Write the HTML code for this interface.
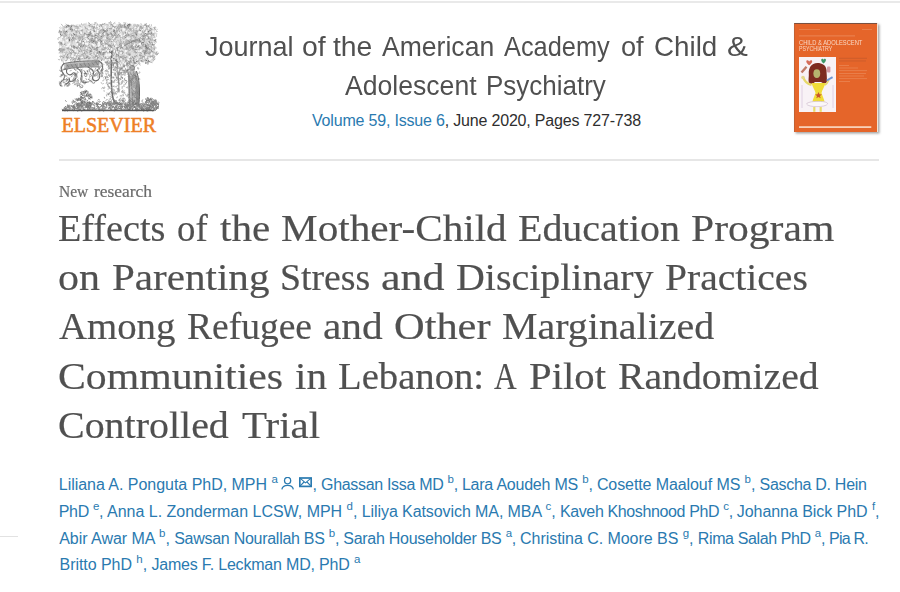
<!DOCTYPE html>
<html><head><meta charset="utf-8">
<style>
html,body{margin:0;padding:0;background:#fff;width:900px;height:592px;overflow:hidden;position:relative}
.abs{position:absolute;white-space:nowrap}
.topline{position:absolute;left:0;top:1px;width:900px;height:2px;background:#e9e9e9}
.sep{position:absolute;left:59px;top:159px;width:820px;height:2px;background:#e6e6e6}
.leftline{position:absolute;left:0;top:536px;width:18px;height:1px;background:#e2e2e2}
.jt{font-family:"Liberation Sans",sans-serif;font-size:27.5px;color:#505050;line-height:1}
.jw{position:absolute;white-space:pre;transform-origin:0 0}
.vol{font-family:"Liberation Sans",sans-serif;font-size:16px;color:#2e2e2e;line-height:1}
.blue{color:#2a7ab0}
.nr{font-family:"Liberation Serif",serif;font-size:16px;color:#6b6b6b;line-height:1}
.nw{position:absolute;white-space:pre;transform-origin:0 0;-webkit-text-stroke:0.2px #6b6b6b}
.tt{font-family:"Liberation Serif",serif;font-size:38px;color:#505050;line-height:1}
.tw{position:absolute;white-space:pre;transform-origin:0 0;-webkit-text-stroke:0.2px #505050}
.au{font-family:"Liberation Sans",sans-serif;font-size:16px;color:#2a7ab0;line-height:1}
.sp{font-size:11.5px;position:relative;top:-7px}
.w{position:absolute;white-space:pre}
</style></head><body>
<div class="topline"></div>
<div class="sep"></div>
<div class="leftline"></div>

<!-- Elsevier logo -->
<svg class="abs" id="logo" style="left:55px;top:18px" width="110" height="120" viewBox="0 0 110 120"><path d="M5.0,10.0 L10.0,7.5 L18.0,7.0 L26.0,6.5 L34.0,6.0 L42.0,6.5 L50.0,6.0 L58.0,6.2 L66.0,6.0 L74.0,6.5 L82.0,6.2 L90.0,7.0 L96.0,8.0 L100.0,10.5 L100.5,18.0 L99.5,26.0 L100.5,34.0 L99.5,41.0 L98.0,44.5 L92.0,45.0 L85.0,44.0 L80.0,45.5 L76.0,49.0 L72.0,53.0 L68.0,57.0 L64.0,55.0 L60.0,51.0 L56.0,46.0 L50.0,43.0 L42.0,42.0 L32.0,42.5 L22.0,42.0 L12.0,42.5 L6.0,43.0 L5.5,36.0 L4.5,28.0 L5.5,20.0 L4.5,14.0Z" fill="#dedede"/><path d="M9 45.5 C18 43.5 30 42.5 44 43 L44.5 49 C30 48.5 18 49.5 9.5 51.5 Z" fill="#bdbdbd"/><path d="M73.8 54 C74.5 52.3 79 52 81.5 53.5 C83.5 58 84.5 66 84.5 74 C84.5 80 84.2 84 83.8 87 L74.5 87 C74.5 80 74 72 73.8 64 C73.6 60 73.3 56 73.8 54 Z" fill="#c2c2c2"/><path d="M79.5 54 C82 58 84 64 84.3 72 C84.3 80 84 84 83.8 87 L80.5 87 C81 78 81 66 79.5 54Z" fill="#8e8e8e"/><circle cx="77.2" cy="49.8" r="2.4" fill="#b0b0b0" stroke="#6a6a6a" stroke-width="0.8"/><path d="M48.7 36.6A1.4 1.4 0 0 1 47.4 34.2M52.0 40.8A1.0 1.0 0 0 1 54.0 41.4M94.4 31.4A1.2 1.2 0 0 1 93.2 29.5M13.1 7.4l-1.3 -0.5M96.0 15.6A1.2 1.2 0 0 1 96.6 13.9M52.1 17.9A0.9 0.9 0 0 1 53.5 17.0M73.9 17.5A1.3 1.3 0 0 1 71.7 16.6M64.3 54.9A1.2 1.2 0 0 1 66.7 54.7M58.6 46.4A0.9 0.9 0 0 1 58.2 47.9M70.9 27.4A1.3 1.3 0 0 1 71.7 29.5M96.1 29.7l-1.0 0.2M12.5 7.5l1.1 0.8M82.4 43.0A0.9 0.9 0 0 1 83.9 43.0M52.2 20.9A1.0 1.0 0 0 1 52.2 19.0M66.3 26.9l-0.5 1.2M27.4 33.3l1.1 -0.3M74.5 7.1A0.9 0.9 0 0 1 72.9 7.2M14.6 28.4A0.9 0.9 0 0 1 16.3 28.4M59.8 49.7l0.2 -1.0M32.2 21.7A1.3 1.3 0 0 1 33.7 20.5M26.8 13.7A1.0 1.0 0 0 1 27.7 12.1M27.5 34.4A1.4 1.4 0 0 1 26.5 37.0M94.4 12.1A1.3 1.3 0 0 1 92.1 13.3M80.3 23.9A0.8 0.8 0 0 1 79.3 23.2M71.2 30.2A1.3 1.3 0 0 1 73.3 30.5M55.8 10.6l-1.2 -0.1M92.5 30.5A0.8 0.8 0 0 1 91.3 29.5M36.9 33.5A1.0 1.0 0 0 1 35.1 33.2M95.4 34.5A1.4 1.4 0 0 1 92.7 35.1M15.4 34.1l0.0 1.2M34.8 8.3A1.0 1.0 0 0 1 35.5 6.5M92.9 21.2l0.3 -1.7M61.5 34.8A0.8 0.8 0 0 1 61.6 33.3M72.1 50.5l-1.1 0.7M41.4 8.7l0.2 -1.5M23.6 26.2A0.8 0.8 0 0 1 24.7 27.1M10.8 14.2l0.5 -1.9M29.5 17.7l0.6 -1.7M60.5 17.8A1.1 1.1 0 0 1 60.9 15.6M55.0 4.1A0.7 0.7 0 0 1 56.2 4.3M77.5 29.4A1.0 1.0 0 0 1 76.7 27.7M89.4 7.6A1.3 1.3 0 0 1 92.0 8.3M87.9 38.6l1.1 -0.1M51.7 15.5A1.1 1.1 0 0 1 49.8 15.7M56.7 40.8l-1.6 0.1M28.2 23.8A1.0 1.0 0 0 1 29.8 24.5M74.2 43.4l1.5 -0.4M95.2 15.8l1.2 1.5M18.5 19.3l-1.2 0.5M72.0 25.7l-0.1 -1.1M94.0 29.5l0.6 1.5M68.9 10.5A1.5 1.5 0 0 1 70.3 13.1M98.3 17.0A1.0 1.0 0 0 1 98.3 15.2M6.2 27.9A0.8 0.8 0 0 1 5.0 28.3M89.5 36.6A1.1 1.1 0 0 1 90.1 34.8M18.3 28.2l0.6 1.5M30.9 33.3l1.4 1.0M14.5 27.4A1.1 1.1 0 0 1 16.0 29.1M54.7 27.2A0.9 0.9 0 0 1 53.6 27.8M29.8 15.6l-1.0 0.4M64.6 8.0A1.1 1.1 0 0 1 66.2 9.5M59.3 25.9l-0.9 0.4M78.5 27.1A1.4 1.4 0 0 1 78.3 29.5M53.2 31.5A0.8 0.8 0 0 1 51.8 31.7M37.1 28.6l0.6 1.4M71.4 42.7l-1.1 -0.0M77.5 17.6l-1.4 0.5M70.9 39.2A1.0 1.0 0 0 1 69.4 39.9M98.1 10.3A1.4 1.4 0 0 1 100.3 11.8M76.3 41.0A1.0 1.0 0 0 1 75.7 39.2M51.2 44.5l-1.1 -0.4M52.0 26.8A0.8 0.8 0 0 1 50.7 26.1M63.0 53.9A1.2 1.2 0 0 1 63.6 51.9M13.7 7.2A1.3 1.3 0 0 1 11.4 8.6M34.9 32.9l1.3 -0.2M78.8 40.2l-0.4 1.0M98.9 21.3l0.7 1.3M50.6 41.0l0.1 -1.8M22.6 26.4A1.3 1.3 0 0 1 22.3 24.1M88.6 27.3l-0.1 -1.3M73.8 8.9A1.0 1.0 0 0 1 72.2 7.8M96.5 10.9l-1.4 -0.5M42.3 32.7l-1.4 -0.8M92.2 44.8A0.9 0.9 0 0 1 93.6 43.9M59.3 6.6A1.3 1.3 0 0 1 56.8 7.6M35.6 30.2A1.4 1.4 0 0 1 35.1 32.9M16.3 21.4l1.2 1.3M20.1 29.4l-1.0 -1.6M80.7 31.3l1.5 0.5M33.6 14.6l1.5 0.3M62.0 28.7A0.7 0.7 0 0 1 61.3 30.0M37.2 8.6A1.5 1.5 0 0 1 36.6 6.0M88.8 15.9A1.1 1.1 0 0 1 88.1 18.0M58.4 7.7A1.1 1.1 0 0 1 56.8 6.5M92.9 30.1A1.4 1.4 0 0 1 93.3 27.8M80.9 38.1A0.7 0.7 0 0 1 82.1 38.0M92.5 31.4A1.4 1.4 0 0 1 90.6 29.4M3.8 24.8l2.0 0.1M69.3 6.5l0.2 1.7M42.7 39.2A1.0 1.0 0 0 1 41.5 40.8M51.5 33.8l-1.4 0.6M85.4 8.6A1.4 1.4 0 0 1 87.0 10.6M86.6 18.0A1.3 1.3 0 0 1 88.9 18.5M21.3 40.0A1.1 1.1 0 0 1 19.3 40.6M24.1 29.6l0.5 0.8M73.1 15.6l0.6 1.1M72.8 35.9A0.9 0.9 0 0 1 74.0 36.5M67.9 29.2A1.2 1.2 0 0 1 66.4 27.5M97.3 26.4l1.4 0.5M63.9 54.3A1.3 1.3 0 0 1 62.3 56.0M64.9 26.2l1.2 -0.6M34.7 34.3A1.2 1.2 0 0 1 36.7 33.5M32.1 38.4l-0.7 1.8M87.5 41.0A0.8 0.8 0 0 1 87.1 39.6M92.2 34.7A1.4 1.4 0 0 1 92.3 32.2M74.7 45.5A1.3 1.3 0 0 1 76.8 44.1M60.8 16.1A1.5 1.5 0 0 1 62.2 13.6M74.4 36.5A1.0 1.0 0 0 1 74.5 34.9M75.3 23.5A1.3 1.3 0 0 1 73.0 22.8M34.8 9.2l-1.0 0.7M13.0 27.9A1.4 1.4 0 0 1 10.9 27.6M77.8 48.6A1.5 1.5 0 0 1 78.7 46.7M84.1 23.1l0.2 1.8M99.1 31.5l0.9 -0.7M19.5 20.3l1.2 0.7M54.6 28.0A1.1 1.1 0 0 1 53.5 27.0M60.4 19.8l-1.4 -0.7M79.8 46.1l-0.0 -1.4M71.0 32.4A1.4 1.4 0 0 1 73.0 31.0M19.4 30.7A1.4 1.4 0 0 1 21.8 29.6M14.3 8.6l1.6 0.9M64.2 35.4A0.9 0.9 0 0 1 65.1 33.9M58.2 12.9l1.2 -0.7M56.9 21.1A1.3 1.3 0 0 1 56.4 23.5M40.7 21.7A0.7 0.7 0 0 1 40.6 20.6M33.4 27.3l-0.8 -1.3M48.2 20.8l-1.3 1.1M63.5 45.1A1.0 1.0 0 0 1 62.7 46.7M59.4 44.5l-1.1 -0.2M21.4 35.2A0.8 0.8 0 0 1 20.0 34.6M41.6 35.1A1.3 1.3 0 0 1 41.8 37.5M8.5 39.9l0.6 -1.1M69.2 9.5A1.0 1.0 0 0 1 70.7 8.8M28.2 27.8l1.2 -0.9M44.5 16.6l-2.0 0.1M78.3 13.2l-0.1 -1.3M72.6 42.5l1.1 1.4M21.4 14.9A1.0 1.0 0 0 1 21.3 13.1M71.0 10.5l-0.1 -1.3M59.4 17.4A1.0 1.0 0 0 1 57.5 17.0M19.6 17.7l-0.9 0.5M64.1 37.9l-0.8 -0.7M94.5 34.6A0.8 0.8 0 0 1 95.3 35.9M48.9 35.7l1.1 0.3M66.4 12.2A1.2 1.2 0 0 1 64.1 12.8M24.2 43.0A0.9 0.9 0 0 1 25.5 42.9M42.3 35.9A1.0 1.0 0 0 1 42.5 34.4M32.3 19.4l1.1 -0.9M91.6 35.4A1.2 1.2 0 0 1 90.3 33.6M52.5 19.9l-0.3 0.9M11.4 9.9l0.1 -1.6M33.4 4.9l1.3 0.6M63.3 36.6l0.2 1.7M48.7 16.6A1.3 1.3 0 0 1 48.7 14.1M43.7 15.6A0.8 0.8 0 0 1 45.2 15.4M59.8 5.2A1.5 1.5 0 0 1 60.0 7.3M43.2 22.5A1.3 1.3 0 0 1 45.7 22.8M3.9 14.7A1.0 1.0 0 0 1 5.9 14.4M33.4 16.9A1.2 1.2 0 0 1 32.6 19.1M35.6 13.5A1.2 1.2 0 0 1 33.6 14.6M9.3 32.3A0.8 0.8 0 0 1 8.3 31.4M7.8 31.6A1.1 1.1 0 0 1 6.1 32.9M80.0 28.9l1.4 -1.4M10.1 27.1l-1.3 -1.1M103.1 35.0A1.5 1.5 0 0 1 100.5 36.3M9.4 15.2A1.3 1.3 0 0 1 10.2 17.3M66.5 33.0A1.3 1.3 0 0 1 67.2 35.6M100.6 22.9l-0.0 -1.3M79.2 33.3A1.2 1.2 0 0 1 80.6 31.6M97.1 36.5A1.3 1.3 0 0 1 96.2 39.0M65.0 41.7l0.8 -0.5M18.6 27.8A1.4 1.4 0 0 1 19.1 30.0M78.1 45.0l1.9 -0.3M34.1 29.4A0.8 0.8 0 0 1 35.2 30.4M45.7 34.3A1.1 1.1 0 0 1 44.1 33.6M52.6 12.2A1.4 1.4 0 0 1 51.5 13.8M67.4 54.9A1.1 1.1 0 0 1 65.5 53.7M57.8 23.7A0.8 0.8 0 0 1 58.4 22.3M71.5 17.7A1.4 1.4 0 0 1 70.8 14.9M65.1 41.4A1.4 1.4 0 0 1 66.0 38.7M93.1 19.8A0.9 0.9 0 0 1 92.6 18.1M16.1 32.1l-0.8 -0.4M78.3 28.8l-0.3 -1.1M39.2 23.4l1.0 1.0M49.4 13.7A1.4 1.4 0 0 1 49.0 11.3M36.8 24.1A0.8 0.8 0 0 1 36.7 22.6M75.6 50.2l-0.5 -1.8M80.8 23.4l-2.0 -0.2M42.7 41.0A0.8 0.8 0 0 1 43.1 39.4M52.6 43.2A1.2 1.2 0 0 1 50.4 44.3M86.7 32.6l-1.1 0.8M28.9 23.3A1.1 1.1 0 0 1 26.8 22.6M31.5 39.3l1.6 -0.7M48.0 24.6A1.1 1.1 0 0 1 46.2 25.8M42.4 38.9A0.9 0.9 0 0 1 41.1 39.5M60.9 36.5A1.3 1.3 0 0 1 62.7 36.5M67.3 19.0A1.3 1.3 0 0 1 65.5 17.5M27.6 19.5A0.9 0.9 0 0 1 26.8 18.4M80.0 14.8l-1.1 0.1M69.0 38.5A1.2 1.2 0 0 1 68.3 40.5M46.4 42.8A1.2 1.2 0 0 1 47.3 41.1M49.4 31.0A1.2 1.2 0 0 1 46.9 31.1M78.5 30.4A1.3 1.3 0 0 1 76.4 28.9M78.2 27.9l-1.7 -0.6M4.1 32.3A1.0 1.0 0 0 1 4.9 34.2M84.3 29.9l0.9 -0.8M70.2 6.9A1.1 1.1 0 0 1 70.8 5.0M82.0 23.3A0.7 0.7 0 0 1 83.1 23.2M10.6 12.7A0.9 0.9 0 0 1 10.7 14.4M73.0 7.4A1.0 1.0 0 0 1 74.8 7.8M90.3 44.3l0.2 1.3M78.7 30.5A0.9 0.9 0 0 1 79.4 31.7M90.2 32.0A0.8 0.8 0 0 1 90.5 33.5M86.4 15.4l1.5 0.5M81.1 13.2A1.2 1.2 0 0 1 82.7 13.4M91.2 19.1l0.3 1.7M90.9 17.1l1.1 -1.5M23.6 32.0l0.9 1.5M20.7 23.6A1.1 1.1 0 0 1 22.2 22.2M8.6 13.0A0.8 0.8 0 0 1 9.8 13.9M71.8 19.1A1.3 1.3 0 0 1 69.6 17.7M52.0 26.8A0.7 0.7 0 0 1 51.8 28.0M75.7 10.9A1.4 1.4 0 0 1 74.1 8.5M12.6 39.2A1.2 1.2 0 0 1 12.8 41.0M49.9 5.5l-1.4 0.7M55.3 7.5A1.0 1.0 0 0 1 56.9 6.3M43.4 36.7A0.8 0.8 0 0 1 43.0 35.6M36.7 33.5A1.4 1.4 0 0 1 35.7 35.9M52.7 34.0l-0.0 -1.6M77.6 39.8l-0.3 -1.2M47.6 6.0A1.2 1.2 0 0 1 45.4 6.9M48.0 15.9A0.9 0.9 0 0 1 49.3 14.8M12.3 8.0A1.2 1.2 0 0 1 14.3 7.5M101.8 33.7l-1.0 1.7M55.3 21.8l-1.5 0.0M53.2 16.1A0.9 0.9 0 0 1 52.3 17.3M27.2 21.7A0.9 0.9 0 0 1 28.3 20.7M86.9 25.1A0.7 0.7 0 0 1 86.2 24.1M87.9 21.9A1.2 1.2 0 0 1 89.9 20.5M90.3 41.3l0.3 1.2M32.0 24.4A1.2 1.2 0 0 1 31.6 26.6M37.1 20.2l-0.3 1.0M34.6 38.8A1.2 1.2 0 0 1 33.3 40.8M47.2 23.9l0.9 0.7M5.6 23.6A1.5 1.5 0 0 1 6.5 25.6M57.5 18.0l-1.4 -0.2M53.5 30.4A0.8 0.8 0 0 1 54.2 31.6M18.1 41.0A0.7 0.7 0 0 1 17.7 42.3M19.2 42.5l0.6 1.5M87.8 43.0A1.1 1.1 0 0 1 86.0 42.5M42.1 30.5l-0.1 1.5M44.8 35.3l1.2 1.5M91.0 27.1A1.2 1.2 0 0 1 92.4 28.5M22.6 41.8l1.3 -1.5M46.8 21.3A1.4 1.4 0 0 1 44.9 20.6M79.0 57.2A1.4 1.4 0 0 1 78.7 60.0M73.1 52.0A1.2 1.2 0 0 1 75.4 53.0M49.0 85.9A1.4 1.4 0 0 1 51.5 86.8M59.2 60.0A0.7 0.7 0 0 1 58.3 58.8M78.4 59.9l-1.0 1.0M65.9 51.8A1.4 1.4 0 0 1 63.9 51.1M54.0 69.1l-1.0 -0.9M72.5 46.1l-1.2 1.5M65.5 61.6A1.4 1.4 0 0 1 67.8 60.0M56.0 64.6A1.4 1.4 0 0 1 54.1 65.3M74.4 46.0A0.8 0.8 0 0 1 74.4 44.4M66.4 84.5l0.9 0.9M73.5 55.7A1.5 1.5 0 0 1 73.1 58.5M78.0 61.0A0.8 0.8 0 0 1 76.7 60.6M49.6 80.2l-0.3 -0.9M81.8 60.3A0.9 0.9 0 0 1 80.9 61.4M78.4 76.1A1.1 1.1 0 0 1 77.2 77.3M78.3 82.7A1.0 1.0 0 0 1 79.4 84.3M69.4 89.1l0.9 -0.3M55.0 74.1A0.8 0.8 0 0 1 56.6 74.6M58.4 51.9l0.6 -0.7M80.6 70.1l-0.2 0.9M67.8 74.3A1.3 1.3 0 0 1 67.8 72.0M54.5 75.0A1.4 1.4 0 0 1 53.2 76.7M58.7 83.8l1.0 1.4M53.1 46.2A1.1 1.1 0 0 1 51.8 47.3M63.2 64.1A1.0 1.0 0 0 1 64.3 65.2M70.2 88.0A1.1 1.1 0 0 1 71.7 86.7M55.6 57.0l0.6 0.9M63.2 44.7l1.4 0.8M81.4 45.6l-1.6 -0.9M73.3 76.6A0.9 0.9 0 0 1 74.6 77.3M72.8 49.9l0.0 1.9M81.6 67.6A0.9 0.9 0 0 1 80.8 69.2M59.2 48.3l0.3 1.9M78.8 89.1A1.3 1.3 0 0 1 77.7 90.8M51.9 64.3l-0.6 1.0M64.0 89.9A0.9 0.9 0 0 1 63.9 88.3M57.6 45.2A1.2 1.2 0 0 1 58.5 46.9M75.3 46.6l0.6 0.8M60.6 55.3l-0.2 1.6M71.4 89.7l0.1 -1.6M52.8 67.2l-0.3 -0.9M65.8 55.8l-1.8 0.4M70.1 89.3l-1.2 -0.4M58.0 44.7A0.9 0.9 0 0 1 58.8 46.2M61.1 59.4A0.8 0.8 0 0 1 62.4 59.8M62.8 50.2A1.4 1.4 0 0 1 61.9 47.5M61.0 56.7A0.7 0.7 0 0 1 60.4 57.9M76.3 80.5l-1.1 -0.6M76.2 67.2A1.3 1.3 0 0 1 76.7 64.9M78.3 86.7l1.2 1.1M46.7 48.1l-1.0 1.1M67.8 76.1A1.3 1.3 0 0 1 68.3 77.9M56.7 59.7A1.2 1.2 0 0 1 58.5 59.4M60.6 52.8l-0.7 -1.1M62.7 73.3l0.4 -1.6M81.9 58.8l-1.5 -0.6M76.2 63.4l-0.9 -0.7M67.1 81.4A1.1 1.1 0 0 1 68.7 81.1M59.9 57.1A1.0 1.0 0 0 1 60.5 55.1M59.0 45.6A1.2 1.2 0 0 1 61.0 45.0M50.8 58.5l-0.3 1.8M71.8 54.3A1.0 1.0 0 0 1 72.4 56.3M66.1 58.6A1.4 1.4 0 0 1 67.1 61.1M67.3 64.1l-0.7 1.8M70.1 49.1A1.1 1.1 0 0 1 68.7 47.4M71.0 62.7A1.5 1.5 0 0 1 69.8 60.1M76.0 49.5A1.4 1.4 0 0 1 73.2 49.7M59.0 63.2A0.8 0.8 0 0 1 59.8 62.1M54.1 82.9l1.3 1.0M74.0 84.4l1.2 -0.3M62.0 47.8l0.6 1.0M57.8 68.1A0.8 0.8 0 0 1 59.0 68.7M75.2 62.4l1.4 -1.0M79.5 78.2l0.0 1.3M63.4 61.5l1.1 -1.3M53.5 47.7l1.2 0.5M50.6 60.5A1.5 1.5 0 0 1 53.3 59.3M59.4 75.5A0.7 0.7 0 0 1 58.4 74.4M76.9 83.8A1.4 1.4 0 0 1 77.3 86.6M79.7 64.0A0.7 0.7 0 0 1 81.0 64.5M77.2 76.1l1.3 1.2M79.5 57.9A1.4 1.4 0 0 1 79.5 55.6M80.2 74.5A1.0 1.0 0 0 1 78.8 75.9M78.4 55.7A1.0 1.0 0 0 1 77.4 57.4M77.4 76.2l1.5 1.0M78.7 77.6A1.3 1.3 0 0 1 78.2 79.9M76.4 85.7A1.1 1.1 0 0 1 74.8 84.3M82.6 85.4l0.4 1.8M82.1 81.8A1.4 1.4 0 0 1 82.9 79.8M81.7 58.9l-1.2 -1.4M78.3 55.1A0.8 0.8 0 0 1 78.7 53.9M76.1 56.4l-0.5 -1.6M78.8 83.7l1.5 1.2M77.7 75.7A1.2 1.2 0 0 1 77.6 73.9M77.3 61.2l0.7 -1.4M75.3 67.8l-0.5 0.8M81.0 63.7l-1.1 0.7M79.1 82.4l-1.4 -0.4M77.6 62.6A0.9 0.9 0 0 1 77.7 64.4M75.9 63.5A0.8 0.8 0 0 1 74.8 64.3M84.1 76.2A1.5 1.5 0 0 1 83.4 73.3M81.7 78.9A1.3 1.3 0 0 1 79.3 77.8M81.0 85.3A0.9 0.9 0 0 1 79.9 86.4M77.7 59.2l0.3 -1.6M75.1 64.3A1.1 1.1 0 0 1 75.8 62.3M80.8 73.8l-0.7 1.6M84.2 80.1A1.4 1.4 0 0 1 81.4 80.2M79.8 76.4l-1.8 -0.5M81.1 86.1l-0.6 -1.4" stroke="#7a7a7a" stroke-width="0.7" fill="none" stroke-linecap="round"/><path d="M50.6 38.4l-0.3 0.9M10.7 17.9A0.7 0.7 0 0 1 11.7 17.6M3.6 24.2A1.1 1.1 0 0 1 5.6 25.0M21.6 13.5A0.9 0.9 0 0 1 20.7 12.0M3.4 21.9A1.3 1.3 0 0 1 4.8 19.7M13.3 30.3A1.0 1.0 0 0 1 15.2 30.0M21.7 30.3A1.3 1.3 0 0 1 23.2 29.3M37.3 22.3l1.2 -1.3M96.9 10.7A1.5 1.5 0 0 1 94.5 12.1M7.7 33.0A1.5 1.5 0 0 1 6.2 35.3M57.6 50.0A1.4 1.4 0 0 1 59.9 49.6M92.0 15.2A1.1 1.1 0 0 1 93.8 14.8M91.8 11.5l1.1 0.7M58.6 43.6A1.2 1.2 0 0 1 56.9 44.6M45.4 23.2A0.7 0.7 0 0 1 46.0 24.5M73.6 47.5A1.3 1.3 0 0 1 71.4 47.7M66.9 38.9l1.2 -0.3M25.6 26.7A1.0 1.0 0 0 1 23.7 27.3M95.9 25.0A1.1 1.1 0 0 1 97.9 25.3M80.9 35.0A1.3 1.3 0 0 1 79.5 33.7M31.3 18.6A1.2 1.2 0 0 1 30.0 16.6M41.3 13.8A1.5 1.5 0 0 1 41.7 11.0M11.5 39.5l0.6 -1.2M83.5 21.5A1.1 1.1 0 0 1 84.4 23.6M63.3 16.0A1.0 1.0 0 0 1 61.6 17.1M80.2 9.2l0.2 1.0M82.9 6.5A1.4 1.4 0 0 1 81.6 8.6M28.5 28.6A1.3 1.3 0 0 1 26.7 26.6M58.6 8.9l-0.1 -1.3M16.1 39.3l-1.5 1.0M62.3 9.0l1.4 -0.1M47.7 34.0A1.3 1.3 0 0 1 47.3 36.5M78.8 24.3l-0.9 -0.3M6.2 14.1l-0.8 -1.5M72.0 20.0A0.9 0.9 0 0 1 72.0 18.1M26.5 32.6A1.2 1.2 0 0 1 25.5 31.0M83.1 7.0A1.1 1.1 0 0 1 83.8 8.7M32.7 11.4A0.8 0.8 0 0 1 31.8 10.4M90.0 36.2A1.0 1.0 0 0 1 89.8 38.0M71.9 52.6A1.0 1.0 0 0 1 70.3 53.1M82.1 11.9A1.4 1.4 0 0 1 79.9 12.8M7.6 26.0A0.9 0.9 0 0 1 8.7 25.2M74.2 41.0A1.4 1.4 0 0 1 76.6 40.5M39.8 21.5A1.0 1.0 0 0 1 40.8 19.7M75.3 44.1A1.4 1.4 0 0 1 73.4 42.4M68.6 23.4A1.3 1.3 0 0 1 66.7 25.1M65.3 50.5l-1.2 1.1M23.4 19.4A1.4 1.4 0 0 1 26.0 20.2M91.1 28.2l1.5 0.2M58.1 35.3l1.0 -0.8M58.1 34.4A1.2 1.2 0 0 1 60.1 34.7M9.3 30.1l-1.1 1.3M12.4 22.7l-0.1 -1.5M24.4 27.3A0.8 0.8 0 0 1 25.5 26.3M50.8 17.0A1.3 1.3 0 0 1 53.4 17.3M64.8 54.1A1.5 1.5 0 0 1 66.7 51.8M64.0 24.0l1.0 0.5M26.4 27.9A1.4 1.4 0 0 1 27.1 25.7M18.1 7.2A1.0 1.0 0 0 1 19.4 8.5M59.4 7.8l1.2 0.8M83.0 32.8A1.1 1.1 0 0 1 84.4 31.2M84.8 45.1l-1.0 -0.9M71.8 24.0l-1.1 -0.8M37.0 22.2A1.2 1.2 0 0 1 34.6 21.8M64.6 41.5A0.7 0.7 0 0 1 65.3 42.6M100.2 22.9A1.0 1.0 0 0 1 100.5 21.5M27.4 17.2A1.2 1.2 0 0 1 29.6 18.1M70.9 32.0l-0.5 -1.4M57.2 23.8A1.5 1.5 0 0 1 57.5 21.3M27.0 13.8A1.3 1.3 0 0 1 26.8 11.8M75.7 18.8l0.9 1.7M19.5 34.5A1.4 1.4 0 0 1 17.0 35.2M96.1 27.2l-0.0 1.4M80.4 22.0A1.2 1.2 0 0 1 82.6 22.6M8.3 32.2A1.3 1.3 0 0 1 10.0 31.3M79.3 17.7l-1.0 -0.4M81.2 22.9l-0.4 1.5M96.1 23.1l-0.4 -1.9M23.5 11.2A1.3 1.3 0 0 1 21.8 12.8M71.8 38.3A1.1 1.1 0 0 1 70.0 39.7M52.1 23.6A1.3 1.3 0 0 1 53.4 21.9M70.3 10.0A1.3 1.3 0 0 1 69.7 12.4M5.3 13.0l-0.8 -0.7M87.8 33.9A0.9 0.9 0 0 1 89.5 33.6M9.7 15.5A1.5 1.5 0 0 1 11.8 17.4M45.9 40.2A0.8 0.8 0 0 1 47.3 40.7M33.0 42.7l-0.2 1.3M26.4 23.4A1.2 1.2 0 0 1 25.3 25.6M44.6 13.7l0.8 -1.2M61.0 40.7l0.0 2.0M19.5 22.0A1.2 1.2 0 0 1 19.8 24.4M27.3 20.3A0.8 0.8 0 0 1 26.2 19.7M39.2 21.7A1.2 1.2 0 0 1 41.1 21.8M5.2 41.1A1.1 1.1 0 0 1 3.2 41.3M65.4 54.7A1.0 1.0 0 0 1 64.0 55.0M93.1 19.2A1.2 1.2 0 0 1 92.0 20.8M42.2 36.1A1.2 1.2 0 0 1 44.0 34.5M23.9 37.7A1.0 1.0 0 0 1 23.4 39.6M32.9 25.2A0.7 0.7 0 0 1 31.8 24.8M98.3 28.6A1.2 1.2 0 0 1 98.8 26.3M6.0 31.9A1.1 1.1 0 0 1 7.8 31.4M20.2 33.9A0.9 0.9 0 0 1 19.7 32.2M32.9 32.1A1.3 1.3 0 0 1 32.6 30.0M37.1 28.9l0.8 -1.8M71.7 47.9A1.1 1.1 0 0 1 73.7 47.6M85.9 16.8l1.2 -0.7M70.9 9.6A1.0 1.0 0 0 1 71.3 11.4M25.6 16.0A0.8 0.8 0 0 1 27.1 16.0M90.4 6.8l1.1 -1.4M8.1 24.7l-0.3 0.9M72.4 16.5l0.7 -0.9M84.3 30.1A1.4 1.4 0 0 1 84.9 32.2M71.0 44.4l1.2 0.7M54.2 30.3l1.8 0.3M10.1 15.7A1.1 1.1 0 0 1 9.1 13.8M41.4 36.8A1.0 1.0 0 0 1 40.3 35.1M63.7 36.1A1.1 1.1 0 0 1 62.4 34.9M100.0 38.3A1.4 1.4 0 0 1 97.4 38.9M38.8 13.3l-0.3 -1.1M31.8 12.9l0.2 1.3M64.0 43.6A1.4 1.4 0 0 1 66.1 44.6M78.3 32.0A0.8 0.8 0 0 1 77.5 31.1M53.5 42.5l1.1 -0.5M51.2 15.0l-0.1 -2.0M4.5 30.2A1.2 1.2 0 0 1 4.5 31.8M55.2 16.5l0.3 -1.4M71.8 35.7A0.8 0.8 0 0 1 71.8 34.2M71.1 48.5l-0.6 1.8M70.4 48.7A1.4 1.4 0 0 1 71.7 50.6M36.5 24.3l-0.6 -1.0M82.6 17.8A1.5 1.5 0 0 1 81.0 20.1M87.5 38.8l0.1 1.4M45.2 13.7A1.1 1.1 0 0 1 43.2 14.5M74.5 25.2A0.8 0.8 0 0 1 74.5 26.5M69.3 56.8l-0.7 -1.2M95.5 42.1A0.8 0.8 0 0 1 95.2 40.8M58.8 14.2A1.0 1.0 0 0 1 60.1 12.7M87.1 29.1l0.9 -0.2M33.4 7.3A0.7 0.7 0 0 1 34.6 7.5M75.5 31.3A1.3 1.3 0 0 1 76.7 28.9M80.8 23.7l0.6 1.2M10.4 36.3A1.2 1.2 0 0 1 8.9 37.5M81.7 36.5A1.2 1.2 0 0 1 80.0 38.1M23.0 30.2A1.2 1.2 0 0 1 21.2 30.8M87.3 12.7l0.5 1.9M39.7 15.9l-1.6 0.2M63.8 16.9A0.9 0.9 0 0 1 65.1 15.6M37.4 25.5l-0.1 1.1M47.0 16.3l0.9 0.9M63.7 4.8A1.5 1.5 0 0 1 65.7 6.2M16.7 21.4l1.4 -1.1M52.7 44.8A1.5 1.5 0 0 1 53.5 47.5M39.4 8.5A0.8 0.8 0 0 1 37.8 8.4M11.7 11.9A1.4 1.4 0 0 1 9.5 11.4M66.5 13.1A1.2 1.2 0 0 1 64.4 13.8M40.2 6.2l-1.5 0.7M67.3 41.1A1.0 1.0 0 0 1 69.1 41.2M93.5 31.0l1.1 -1.0M7.2 7.2l-0.8 -1.0M58.7 8.0A1.1 1.1 0 0 1 57.3 9.6M59.3 9.2A1.4 1.4 0 0 1 58.7 11.8M63.0 19.0A1.2 1.2 0 0 1 61.0 17.8M49.9 30.5l1.3 1.4M94.3 38.4A0.8 0.8 0 0 1 95.6 39.3M41.4 25.3l-1.3 -1.1M71.3 48.8l-0.6 0.8M34.2 16.3l0.6 -1.4M71.0 28.3l0.7 1.3M81.2 10.2l1.4 -0.5M36.2 15.9l1.1 0.1M72.3 24.1l-0.8 -0.9M46.8 37.1l0.2 -0.9M24.5 22.0l-1.1 -1.7M65.6 22.5l0.1 -1.1M39.6 9.6A1.0 1.0 0 0 1 37.9 10.2M63.0 31.4l1.4 -0.3M51.1 12.7A1.1 1.1 0 0 1 48.9 12.6M87.5 33.5l1.2 -0.7M84.3 45.7l0.8 1.5M40.1 23.2A1.4 1.4 0 0 1 41.6 21.8M34.8 7.5A1.3 1.3 0 0 1 36.7 7.2M44.4 17.4A1.0 1.0 0 0 1 45.7 16.4M69.7 17.7A0.7 0.7 0 0 1 68.4 18.3M5.7 39.1A1.3 1.3 0 0 1 7.8 38.5M59.6 23.2l-0.5 1.8M92.6 7.9A1.4 1.4 0 0 1 93.9 10.0M91.6 45.1l1.9 0.1M45.1 10.4A0.9 0.9 0 0 1 43.9 9.4M39.1 22.6l-1.7 -0.4M22.4 24.1A1.5 1.5 0 0 1 21.7 26.5M33.4 23.2A1.3 1.3 0 0 1 35.3 23.8M41.9 17.5A1.1 1.1 0 0 1 42.0 15.3M28.2 28.4l-0.9 1.1M28.9 32.8A0.9 0.9 0 0 1 30.1 31.8M69.8 49.4A0.8 0.8 0 0 1 69.6 47.8M16.8 35.0l-0.7 0.7M101.6 24.1A1.1 1.1 0 0 1 100.9 21.9M101.6 36.2l-0.5 -1.6M73.5 23.6l1.0 1.5M72.7 10.6A0.8 0.8 0 0 1 73.7 10.1M52.3 25.8l-1.5 -0.1M98.4 30.9A1.2 1.2 0 0 1 99.8 30.0M89.1 38.4l0.2 1.0M44.5 23.7A0.7 0.7 0 0 1 43.8 22.3M54.8 29.0A0.7 0.7 0 0 1 55.9 29.9M70.4 53.9A1.0 1.0 0 0 1 71.2 52.1M63.7 8.5A1.2 1.2 0 0 1 64.8 10.2M27.0 33.9l-0.7 -0.7M8.6 45.2A0.7 0.7 0 0 1 8.3 44.1M49.4 23.8A0.8 0.8 0 0 1 49.3 25.3M59.7 32.0A1.0 1.0 0 0 1 59.6 34.0M53.0 20.9l1.0 0.0M94.8 24.0A0.9 0.9 0 0 1 94.9 22.4M44.5 39.3A0.8 0.8 0 0 1 45.2 38.0M52.9 10.5A1.1 1.1 0 0 1 50.9 11.1M64.4 54.6A1.0 1.0 0 0 1 63.4 56.4M70.6 50.3l-0.9 1.5M88.2 43.8A1.0 1.0 0 0 1 89.9 44.4M80.5 28.7A1.2 1.2 0 0 1 81.6 26.5M96.2 36.4l0.3 1.5M68.7 47.7A0.7 0.7 0 0 1 68.9 46.7M71.3 46.1l-1.2 0.5M43.7 29.5l1.4 -1.2M47.3 32.1l-0.7 1.5M54.2 18.7l-1.0 0.9M96.7 26.6l-0.2 1.3M10.0 20.2l1.7 0.8M99.4 21.6l-0.5 -1.8M101.9 36.0l1.0 -0.3M63.3 44.5l0.3 1.0M62.4 47.4l-1.2 -1.5M10.2 25.2l-0.4 1.4M96.6 7.7A0.7 0.7 0 0 1 96.2 6.7M86.0 9.3l-0.9 0.1M59.9 4.5l-1.5 1.2M100.1 25.6A1.4 1.4 0 0 1 100.4 23.2M70.8 56.9A1.5 1.5 0 0 1 68.7 57.1M7.6 16.2l0.7 1.7M37.9 16.9A1.2 1.2 0 0 1 36.0 17.4M38.1 31.7A0.9 0.9 0 0 1 39.8 31.5M87.8 32.0A1.1 1.1 0 0 1 86.9 33.2M91.3 10.6A1.3 1.3 0 0 1 88.7 10.2M6.0 18.2A0.8 0.8 0 0 1 6.7 19.6M39.7 8.4A1.3 1.3 0 0 1 37.2 8.3M73.5 45.1A1.0 1.0 0 0 1 74.3 46.9M21.3 43.2A1.2 1.2 0 0 1 20.3 41.1M66.2 29.7A1.5 1.5 0 0 1 68.3 30.9M5.5 30.2A1.3 1.3 0 0 1 6.8 31.7M5.3 33.3A0.8 0.8 0 0 1 6.5 32.5M62.8 31.5A1.3 1.3 0 0 1 63.9 29.4M70.7 23.9l-1.0 1.7M67.4 49.8l-1.4 0.2M42.4 34.2l0.5 1.4M13.0 33.7A1.3 1.3 0 0 1 15.2 34.4M59.1 16.5A1.4 1.4 0 0 1 60.7 14.5M72.9 15.9l0.0 -1.9M16.9 6.7l0.0 1.2M85.5 30.3l1.5 0.2M68.8 15.2A1.0 1.0 0 0 1 67.5 14.1M10.9 13.7l1.9 0.6M70.2 41.2A1.1 1.1 0 0 1 71.8 41.7M35.9 22.0A1.0 1.0 0 0 1 34.3 21.6M53.9 24.3A0.9 0.9 0 0 1 54.4 22.9M93.0 11.9A1.3 1.3 0 0 1 93.0 9.7M28.9 9.4A0.8 0.8 0 0 1 30.5 9.3M24.0 7.0A1.1 1.1 0 0 1 22.2 7.8M16.1 35.7l1.7 -0.8M74.1 13.4l-0.3 -0.9M44.5 28.1l-0.3 -1.2M12.2 30.5l1.1 -1.2M75.0 37.9l-1.1 -0.5M39.3 5.2l1.8 -0.7M56.8 19.2A1.4 1.4 0 0 1 56.4 17.3M42.6 6.8l-0.1 -0.9M80.5 54.0A1.1 1.1 0 0 1 80.8 55.6M60.3 86.7A1.1 1.1 0 0 1 58.5 86.1M57.0 62.7A0.9 0.9 0 0 1 57.4 64.5M60.3 68.9A0.7 0.7 0 0 1 61.7 69.0M49.2 73.4l-0.2 -1.1M62.8 59.9A0.9 0.9 0 0 1 61.6 60.2M76.3 83.2A0.9 0.9 0 0 1 75.3 81.8M72.7 84.9l-0.5 1.1M50.2 44.2A0.8 0.8 0 0 1 51.6 44.0M58.0 54.4l-1.7 -0.2M81.8 47.3A1.4 1.4 0 0 1 79.5 48.0M53.6 68.5A1.4 1.4 0 0 1 52.9 71.2M61.5 62.4l1.2 -0.7M59.7 84.7A0.7 0.7 0 0 1 59.2 86.1M75.3 72.3A0.9 0.9 0 0 1 75.0 70.9M75.5 71.0A1.0 1.0 0 0 1 77.4 71.6M53.9 69.2A0.8 0.8 0 0 1 54.9 70.4M78.6 69.2A1.3 1.3 0 0 1 77.2 67.7M66.1 50.7A0.7 0.7 0 0 1 67.2 51.7M62.0 70.7l1.7 0.2M58.6 73.7A1.4 1.4 0 0 1 55.8 74.1M61.3 47.6A1.5 1.5 0 0 1 63.5 46.6M52.9 55.0l0.5 -1.6M68.9 52.9l1.0 -1.3M62.3 53.8l-1.3 0.2M81.0 66.4l0.0 -1.7M64.6 49.7l-1.0 0.4M45.8 56.3A1.3 1.3 0 0 1 46.9 58.3M52.0 46.1A1.5 1.5 0 0 1 54.9 46.1M76.8 83.6l-1.6 0.0M57.2 71.4A0.9 0.9 0 0 1 55.9 70.1M59.0 53.0A1.3 1.3 0 0 1 58.2 51.0M83.5 45.2l-0.7 0.8M60.0 61.5l1.0 0.7M69.3 80.3A1.2 1.2 0 0 1 67.1 80.0M68.9 55.3A0.9 0.9 0 0 1 67.7 54.8M70.6 66.0A0.9 0.9 0 0 1 71.4 64.7M58.0 71.9A0.7 0.7 0 0 1 59.3 71.3M64.9 50.6l-0.2 1.7M70.8 53.9A1.1 1.1 0 0 1 73.0 54.2M70.0 88.8l-0.8 -0.5M78.3 67.0l1.5 1.2M46.6 45.4l-0.5 -1.0M48.8 61.0A1.2 1.2 0 0 1 47.6 62.9M79.2 45.8l1.4 -1.0M74.9 43.7A0.9 0.9 0 0 1 76.2 43.9M77.4 87.7A1.1 1.1 0 0 1 79.0 87.7M63.0 48.6A1.3 1.3 0 0 1 65.1 49.0M59.6 77.1A0.8 0.8 0 0 1 58.7 76.1M72.1 78.4l0.9 0.9M74.6 58.5A0.9 0.9 0 0 1 76.1 58.9M80.8 63.3l-1.4 -1.4M79.0 52.4l0.4 -1.9M64.5 62.9A0.7 0.7 0 0 1 65.3 61.6M63.9 65.8l0.8 -0.6M63.7 70.3l-1.3 0.8M59.1 75.3A1.2 1.2 0 0 1 57.9 76.3M60.1 46.0l-1.0 1.6M73.1 46.3A1.2 1.2 0 0 1 71.5 45.2M81.1 57.0A1.4 1.4 0 0 1 80.5 54.6M59.5 82.2l-0.9 -1.3M76.8 84.2A1.4 1.4 0 0 1 79.3 83.6M59.2 72.1l0.8 1.5M73.7 77.6A1.2 1.2 0 0 1 75.2 76.8M56.2 66.6A1.2 1.2 0 0 1 55.1 65.2M74.6 75.1A1.0 1.0 0 0 1 74.7 73.4M67.6 62.5A0.8 0.8 0 0 1 66.7 63.5M73.2 70.0l-1.9 -0.5M63.7 72.7A1.2 1.2 0 0 1 61.4 73.4M76.6 81.5l0.3 -1.6M74.6 62.7A1.0 1.0 0 0 1 75.0 61.2M45.2 45.8A0.8 0.8 0 0 1 44.4 44.4M66.5 90.6A1.5 1.5 0 0 1 66.7 87.7M55.7 46.5A0.9 0.9 0 0 1 54.1 46.9M76.7 81.3A1.4 1.4 0 0 1 78.3 83.1M62.4 67.0A0.7 0.7 0 0 1 61.8 68.2M54.7 50.6A1.2 1.2 0 0 1 53.4 48.7M53.7 48.7l0.7 0.7M67.0 63.4A1.3 1.3 0 0 1 69.3 64.3M58.1 48.7l-0.8 1.0M61.4 49.5A1.0 1.0 0 0 1 60.0 48.8M65.4 51.1A1.4 1.4 0 0 1 65.1 53.1M75.8 74.0A0.8 0.8 0 0 1 74.8 75.0M67.5 47.8A1.3 1.3 0 0 1 65.7 45.8M68.7 73.9l1.5 0.9M53.6 86.3A1.2 1.2 0 0 1 53.3 88.2M79.5 51.9l-1.6 0.5M72.7 53.4A0.8 0.8 0 0 1 71.9 52.1" stroke="#a0a0a0" stroke-width="0.7" fill="none" stroke-linecap="round"/><path d="M83.0 43.1A1.0 1.0 0 0 1 84.8 42.2M15.2 20.3A1.4 1.4 0 0 1 13.4 21.6M37.7 22.3A1.3 1.3 0 0 1 35.5 22.0M16.1 40.0l0.9 -0.1M35.9 20.6l0.4 1.5M94.0 43.3l-0.9 -1.1M76.0 21.9l-1.6 -0.5M89.3 26.5A1.2 1.2 0 0 1 91.2 27.1M61.3 38.1l0.9 0.8M54.2 20.5A0.9 0.9 0 0 1 55.2 21.8M82.1 21.9l1.2 0.7M29.0 43.3l0.2 1.6M70.6 56.0A1.2 1.2 0 0 1 72.0 54.1M79.8 18.4A1.3 1.3 0 0 1 79.9 20.8M29.9 26.6A1.2 1.2 0 0 1 28.1 27.6M68.0 49.0A1.2 1.2 0 0 1 66.4 50.5M25.3 20.4A0.8 0.8 0 0 1 25.2 18.8M44.8 24.4A1.0 1.0 0 0 1 46.5 24.1M24.4 40.0A1.1 1.1 0 0 1 25.2 41.7M58.2 31.8A1.0 1.0 0 0 1 57.8 33.3M41.9 30.4A0.7 0.7 0 0 1 42.7 29.2M59.7 5.5l-1.3 0.2M84.5 37.0A0.7 0.7 0 0 1 85.4 37.8M41.2 37.1l-0.8 0.5M58.7 23.4A1.3 1.3 0 0 1 60.0 21.3M90.9 15.4l0.7 -1.1M96.8 28.9l0.7 -0.8M70.4 19.1A0.8 0.8 0 0 1 70.0 20.2M17.5 20.1A1.4 1.4 0 0 1 18.1 22.7M46.7 8.1A1.3 1.3 0 0 1 44.5 9.2M45.5 27.4A1.4 1.4 0 0 1 45.4 24.6M89.0 20.8A0.8 0.8 0 0 1 87.7 21.8M54.2 42.0l1.2 -1.4M26.4 13.1A1.3 1.3 0 0 1 25.9 15.6M6.6 13.6A0.9 0.9 0 0 1 4.9 13.9M71.0 13.9l-0.8 0.8M4.3 26.2A1.0 1.0 0 0 1 6.1 26.6M60.1 33.9A1.1 1.1 0 0 1 59.2 32.6M31.0 40.0l-1.6 0.6M20.2 36.5l1.4 1.3M80.4 14.3A1.0 1.0 0 0 1 80.5 16.1M48.7 32.4l-0.3 -1.1M80.1 9.0A0.9 0.9 0 0 1 80.8 10.0M85.1 40.6A0.8 0.8 0 0 1 86.1 39.7M28.2 28.2A1.2 1.2 0 0 1 26.6 27.6M57.3 46.7l-0.3 1.1M59.8 32.1l-0.5 1.6M42.5 17.0A0.7 0.7 0 0 1 43.4 15.9M55.0 33.5l-0.8 -0.6M78.8 23.3l-1.5 -1.0M93.7 9.1A1.3 1.3 0 0 1 94.6 6.9M56.2 11.1A1.3 1.3 0 0 1 58.7 10.9M13.2 35.7l-0.9 1.0M82.5 33.8A1.2 1.2 0 0 1 80.2 33.1M65.2 56.3A1.1 1.1 0 0 1 63.2 56.2M70.6 8.7A1.0 1.0 0 0 1 69.1 7.4M77.2 30.6l1.9 0.4M45.5 12.9l1.4 -1.4M75.5 41.9l0.4 0.9M79.3 26.4l1.3 0.4M31.0 28.8l1.5 0.5M32.1 17.9A1.2 1.2 0 0 1 34.2 16.9M70.5 27.2A0.8 0.8 0 0 1 69.8 26.0M21.7 18.3A0.7 0.7 0 0 1 22.9 17.6M42.1 30.2l0.1 1.7M59.1 34.5l0.2 -1.2M58.8 27.6A1.0 1.0 0 0 1 59.7 28.7M92.3 16.5l-1.3 1.0M98.5 33.8l0.8 1.1M78.6 22.3A1.4 1.4 0 0 1 75.9 22.5M79.1 44.5l1.1 0.5M88.0 38.5A0.9 0.9 0 0 1 86.8 37.5M40.2 43.6l-0.3 1.1M41.9 19.0l-1.1 1.2M13.1 36.8l-0.6 0.8M38.6 25.8A1.3 1.3 0 0 1 38.2 23.4M18.8 11.1A0.8 0.8 0 0 1 18.6 9.8M73.5 27.8l1.6 0.4M81.2 15.6A0.8 0.8 0 0 1 82.4 14.8M62.8 17.1A1.2 1.2 0 0 1 64.8 18.3M18.4 20.1l-0.4 0.9M31.8 24.9A1.5 1.5 0 0 1 34.7 24.6M60.4 11.1l-0.8 -1.2M67.2 38.2A1.3 1.3 0 0 1 64.8 39.0M46.3 6.9A0.8 0.8 0 0 1 45.1 6.7M55.8 35.9A0.9 0.9 0 0 1 57.1 36.9M96.7 15.7l-1.7 0.8M25.7 7.5l-0.2 1.2M62.5 45.1l-1.4 0.5M41.8 42.3A1.1 1.1 0 0 1 40.4 43.7M93.5 18.2A0.9 0.9 0 0 1 92.5 19.6M85.1 34.3A1.4 1.4 0 0 1 86.6 35.7M58.6 8.9A1.4 1.4 0 0 1 58.9 11.0M62.7 12.6A1.3 1.3 0 0 1 60.8 11.5M20.5 8.7l1.8 -0.1M42.4 18.1A1.3 1.3 0 0 1 43.8 19.4M54.0 24.0l1.1 -0.2M55.7 15.7A1.0 1.0 0 0 1 57.1 16.8M16.1 43.5A0.8 0.8 0 0 1 15.5 44.9M42.6 15.5l1.7 1.1M91.7 23.6A0.7 0.7 0 0 1 91.0 24.5M90.1 32.7A1.4 1.4 0 0 1 89.3 35.0M63.5 31.4A0.7 0.7 0 0 1 62.9 30.6M48.2 28.1A0.8 0.8 0 0 1 49.4 29.1M62.1 18.5l-1.0 1.5M90.1 12.6l-0.6 0.9M68.2 17.2A1.4 1.4 0 0 1 70.7 17.0M65.1 25.5l-0.7 1.6M22.4 24.0l1.7 0.6M4.0 13.4A1.0 1.0 0 0 1 5.9 12.9M40.4 31.9A1.0 1.0 0 0 1 39.2 30.8M88.5 11.0A0.9 0.9 0 0 1 88.3 9.3M43.2 9.0l-1.0 0.9M32.0 26.0l-0.4 -1.3M82.2 21.7A1.2 1.2 0 0 1 80.0 21.3M63.4 29.6A1.2 1.2 0 0 1 65.4 28.7M79.2 19.8A0.8 0.8 0 0 1 78.5 18.9M90.8 23.4l-1.9 0.4M80.5 29.4l1.1 0.4M13.1 39.5A1.1 1.1 0 0 1 11.6 38.1M64.6 26.4l1.5 1.2M5.1 30.4A1.0 1.0 0 0 1 3.7 31.7M22.3 30.6A1.0 1.0 0 0 1 22.2 28.8M69.2 49.6A0.7 0.7 0 0 1 69.9 48.4M61.9 45.3A0.7 0.7 0 0 1 61.2 43.9M59.5 35.7A1.5 1.5 0 0 1 61.5 37.8M86.4 42.4l0.5 1.2M36.7 28.0l-0.7 -0.6M60.0 27.0l0.6 -0.8M89.9 18.7A1.0 1.0 0 0 1 90.9 20.0M73.5 8.8A1.1 1.1 0 0 1 71.6 9.6M86.0 29.6l-1.1 0.2M96.7 28.2l-0.5 1.1M24.6 41.6A0.8 0.8 0 0 1 24.2 40.2M56.4 29.0A1.0 1.0 0 0 1 56.0 27.0M40.7 24.8A0.9 0.9 0 0 1 41.6 26.1M79.6 40.9l-1.2 -1.2M73.4 42.0A1.3 1.3 0 0 1 74.0 40.2M96.1 11.8A0.9 0.9 0 0 1 95.5 12.9M62.1 31.8A0.7 0.7 0 0 1 61.8 30.5M93.4 20.4A1.5 1.5 0 0 1 92.2 18.3M55.5 5.2A1.1 1.1 0 0 1 53.8 4.4M56.8 29.2A1.1 1.1 0 0 1 57.4 27.2M68.9 46.5A0.8 0.8 0 0 1 69.1 47.9M88.8 32.5A1.5 1.5 0 0 1 89.8 35.1M45.8 18.0A1.0 1.0 0 0 1 44.9 19.8M33.0 27.2A0.8 0.8 0 0 1 34.2 26.2M54.5 16.5A1.1 1.1 0 0 1 52.6 15.7M27.6 19.0l0.6 -1.1M75.4 36.0l-0.4 1.3M73.5 24.7A1.4 1.4 0 0 1 71.6 25.9M91.9 32.9A0.8 0.8 0 0 1 90.8 32.7M48.3 18.3A0.8 0.8 0 0 1 49.2 17.4M88.7 34.1l1.6 1.2M92.2 10.0l-0.8 -1.7M85.2 9.6A0.9 0.9 0 0 1 83.7 10.6M22.5 26.7l-0.5 -1.2M24.2 42.4A1.2 1.2 0 0 1 24.4 40.0M74.5 23.4A0.8 0.8 0 0 1 74.9 24.9M76.2 13.1A1.1 1.1 0 0 1 76.8 11.0M78.9 39.2A0.7 0.7 0 0 1 80.3 39.1M48.2 11.3l-0.4 1.1M42.6 22.0A1.2 1.2 0 0 1 44.1 22.8M20.2 42.8l-0.7 1.5M66.8 9.4A1.0 1.0 0 0 1 65.5 8.1M55.4 14.8A1.2 1.2 0 0 1 55.6 17.2M98.8 9.8A1.3 1.3 0 0 1 101.0 9.4M41.5 41.1A0.9 0.9 0 0 1 41.4 39.8M41.7 27.0A1.2 1.2 0 0 1 41.8 24.6M48.1 37.3l0.5 1.6M73.9 17.7l0.7 -0.9M17.0 36.1A0.9 0.9 0 0 1 16.2 37.3M66.7 30.5A0.8 0.8 0 0 1 68.1 30.8M47.1 19.7l-1.0 1.6M30.2 16.2l-0.9 -0.3M23.9 13.8A1.3 1.3 0 0 1 24.7 15.5M26.5 5.8l-0.2 1.2M14.0 23.6l0.5 -1.1M49.7 23.5l-1.4 -0.6M33.8 9.5A0.9 0.9 0 0 1 34.0 11.0M100.2 21.9A1.2 1.2 0 0 1 98.1 21.0M78.4 17.8l-1.2 0.1M35.5 14.6l-1.5 -0.8M59.8 7.5l-0.9 0.4M71.0 42.6A1.4 1.4 0 0 1 69.0 44.3M25.3 25.2l0.9 -1.1M35.8 11.4l-0.5 -1.9M67.0 39.5l0.9 1.1M63.1 30.9A0.9 0.9 0 0 1 62.2 30.0M16.4 13.1l1.6 -0.3M96.4 15.6A1.1 1.1 0 0 1 98.5 14.8M86.2 11.5A1.0 1.0 0 0 1 87.6 11.1M21.0 11.4A1.3 1.3 0 0 1 23.6 10.9M21.8 37.3l-0.1 1.0M78.3 22.6A0.9 0.9 0 0 1 79.5 24.0M66.7 27.0A0.8 0.8 0 0 1 66.8 28.4M61.9 49.6A1.2 1.2 0 0 1 60.6 47.8M16.6 35.7l1.3 -0.7M17.2 30.1A1.1 1.1 0 0 1 18.8 29.5M39.7 30.4l-0.9 -1.0M61.6 10.3A1.3 1.3 0 0 1 63.8 11.8M14.0 40.9l0.7 -0.8M73.6 6.7A1.4 1.4 0 0 1 76.1 6.6M32.1 37.6A1.4 1.4 0 0 1 32.7 39.4M6.5 25.4l0.5 1.3M12.1 30.7l1.5 0.3M93.7 20.7A0.9 0.9 0 0 1 95.2 21.6M94.4 26.3A1.3 1.3 0 0 1 92.1 25.4M82.2 36.7A0.8 0.8 0 0 1 81.2 35.5M37.7 20.6l-1.0 -0.5M27.9 40.5A1.2 1.2 0 0 1 26.3 39.6M13.1 20.0A1.4 1.4 0 0 1 15.0 19.0M62.1 35.7l1.2 -0.6M90.4 13.2l-0.2 -1.1M30.9 10.7l-0.6 -1.0M58.7 47.9l-0.3 -1.3M81.6 15.1A1.0 1.0 0 0 1 81.9 16.7M92.6 40.4A1.2 1.2 0 0 1 91.5 38.4M78.3 26.8A1.4 1.4 0 0 1 75.6 27.1M89.1 27.7l-1.9 -0.4M38.0 16.3A1.3 1.3 0 0 1 36.9 18.2M72.3 22.8l1.7 -0.1M70.4 16.0A1.3 1.3 0 0 1 70.7 13.8M86.0 20.0A1.4 1.4 0 0 1 86.9 22.6M38.1 19.2A1.4 1.4 0 0 1 40.2 18.8M74.6 29.9A0.7 0.7 0 0 1 75.4 29.0M89.1 21.5l0.3 1.1M43.8 14.4l-0.4 -1.4M44.5 27.6l1.1 0.3M55.5 27.6l-1.1 -1.6M38.8 11.3A1.4 1.4 0 0 1 39.2 9.1M66.5 8.3A0.7 0.7 0 0 1 67.7 7.7M84.5 37.0A0.8 0.8 0 0 1 85.9 37.5M35.7 36.4A0.8 0.8 0 0 1 34.4 36.2M20.6 18.2l0.7 -1.7M20.2 16.5l-1.2 0.5M90.7 7.5A1.0 1.0 0 0 1 89.9 6.0M97.0 37.0l-1.6 1.1M44.0 9.9l0.5 -1.8M12.5 21.3l1.3 1.3M63.7 7.5A1.0 1.0 0 0 1 65.5 6.7M11.7 42.2A0.8 0.8 0 0 1 10.6 42.9M96.1 31.2A1.1 1.1 0 0 1 94.2 30.0M18.6 34.2l0.2 -0.9M25.3 21.6l-1.2 1.3M19.5 30.9A1.4 1.4 0 0 1 19.2 28.5M75.6 31.9A0.9 0.9 0 0 1 74.0 32.0M89.4 35.3A0.7 0.7 0 0 1 90.1 34.3" stroke="#8a8a8a" stroke-width="0.7" fill="none" stroke-linecap="round"/><path d="M68.0 38.9l1.8 0.4M5.7 14.4A0.8 0.8 0 0 1 4.8 15.2M51.7 40.1A0.9 0.9 0 0 1 51.2 41.5M48.8 22.7A0.8 0.8 0 0 1 47.9 23.3M43.6 22.2A1.1 1.1 0 0 1 45.6 22.0M15.8 9.8A1.3 1.3 0 0 1 13.5 11.0M56.6 32.2l-0.9 -0.2M94.7 34.5l0.9 0.6M34.3 23.4A1.1 1.1 0 0 1 36.3 24.2M64.9 43.7A0.7 0.7 0 0 1 65.9 44.6M65.2 33.2A1.1 1.1 0 0 1 64.5 35.3M51.9 6.3A1.2 1.2 0 0 1 50.1 5.8M73.1 46.7l-1.3 -1.1M29.2 22.5A1.5 1.5 0 0 1 31.9 23.8M9.2 11.2A1.3 1.3 0 0 1 11.4 9.8M85.9 5.4l0.5 1.4M82.8 33.4A0.8 0.8 0 0 1 82.8 35.1M31.1 5.2l-0.3 0.9M88.3 28.3A1.3 1.3 0 0 1 86.4 28.8M74.2 31.4l-1.2 0.3M98.8 39.9l1.0 0.1M84.0 11.3l-1.0 -0.2M86.7 15.3A1.1 1.1 0 0 1 84.6 16.0M34.6 26.7l-1.7 0.3M82.2 18.6A0.9 0.9 0 0 1 81.0 17.7M74.9 16.9A1.1 1.1 0 0 1 76.8 16.5M12.3 24.0A1.2 1.2 0 0 1 13.0 22.2M90.4 26.0A1.3 1.3 0 0 1 89.4 23.5M50.2 13.6l-0.7 -0.8M55.4 10.5l-0.6 1.8M27.6 19.6l0.3 -1.0M92.8 38.8l1.3 -0.6M76.8 33.3A0.8 0.8 0 0 1 78.1 33.3M34.5 38.4A1.0 1.0 0 0 1 35.5 37.0M79.5 31.9l-0.0 1.1M6.4 31.6A0.8 0.8 0 0 1 7.9 30.9M6.9 17.5l-1.0 0.8M24.4 13.6A0.7 0.7 0 0 1 24.9 12.2M50.1 26.7A0.9 0.9 0 0 1 51.9 26.1M97.9 38.8l-0.1 1.3M30.2 25.1l-0.4 -1.8M11.0 5.9A0.9 0.9 0 0 1 10.2 7.5M6.8 11.6l-1.4 0.0M28.8 16.3l-1.3 -0.4M26.9 31.6l0.8 -1.7M8.3 19.5A1.3 1.3 0 0 1 7.7 17.1M87.6 16.0A1.2 1.2 0 0 1 89.3 14.5M6.9 20.7A0.8 0.8 0 0 1 6.5 19.7M67.2 16.1A0.8 0.8 0 0 1 68.8 16.5M8.3 20.7A1.5 1.5 0 0 1 9.8 22.7M68.6 16.2l-0.7 0.8M10.6 12.1A1.4 1.4 0 0 1 12.1 14.6M39.2 34.7A1.3 1.3 0 0 1 37.1 33.2M14.7 21.4l-1.5 -0.3M33.1 38.1l0.4 0.9M7.8 39.0l-0.9 1.4M70.5 28.9A1.0 1.0 0 0 1 72.3 29.1M69.8 20.0l-1.2 0.1M31.5 19.5l-1.4 1.2M37.6 16.1l-0.3 -1.9M11.6 35.3A1.2 1.2 0 0 1 9.4 34.4M62.5 43.2A1.0 1.0 0 0 1 61.4 41.8M72.9 33.7A1.2 1.2 0 0 1 70.8 33.7M28.6 37.7A1.1 1.1 0 0 1 29.3 35.7M55.6 35.6A1.3 1.3 0 0 1 54.4 34.0M68.4 4.9l1.6 -0.3M14.2 30.1A1.2 1.2 0 0 1 13.8 32.2M62.0 27.1A0.9 0.9 0 0 1 60.7 28.2M97.2 21.3A0.8 0.8 0 0 1 96.3 22.4M58.3 30.8A1.2 1.2 0 0 1 60.2 31.9M43.3 18.1A1.3 1.3 0 0 1 41.0 19.1M94.4 18.8A1.5 1.5 0 0 1 95.3 21.2M55.6 20.1l-1.2 0.5M93.9 18.4A0.7 0.7 0 0 1 92.8 18.6M43.9 8.9l1.3 0.5M31.3 35.3A1.0 1.0 0 0 1 29.8 36.4M80.0 29.9A0.9 0.9 0 0 1 78.8 31.2M79.7 42.1l-0.7 1.4M79.8 32.0A0.8 0.8 0 0 1 78.7 32.2M54.0 20.4A1.1 1.1 0 0 1 55.2 21.6M6.9 29.5l1.2 -1.3M65.8 9.4A1.4 1.4 0 0 1 68.4 10.0M36.7 36.4l0.3 1.6M46.7 8.1l0.7 1.3M41.3 12.4A0.8 0.8 0 0 1 40.2 13.1M67.0 29.5A0.8 0.8 0 0 1 67.9 30.4M75.5 47.0A0.8 0.8 0 0 1 75.2 48.6M29.3 37.7l-0.2 1.5M98.4 27.7A1.2 1.2 0 0 1 99.2 29.7M25.4 7.5l0.9 1.6M14.1 8.5A0.9 0.9 0 0 1 15.5 7.6M84.2 44.5A1.3 1.3 0 0 1 84.7 46.4M9.5 19.7A0.8 0.8 0 0 1 9.9 18.1M11.1 20.2A1.0 1.0 0 0 1 12.5 19.0M33.5 12.7A1.2 1.2 0 0 1 33.3 10.8M34.0 28.2A0.9 0.9 0 0 1 32.7 29.4M4.8 10.2A0.8 0.8 0 0 1 5.2 8.9M89.7 6.2A1.1 1.1 0 0 1 88.5 8.0M20.3 24.9A1.0 1.0 0 0 1 22.1 26.1M14.6 22.8A1.5 1.5 0 0 1 17.2 23.9M4.5 38.4l1.5 0.6M88.5 38.2l-1.6 1.0M80.5 12.8l-1.3 0.5M24.6 19.9A1.4 1.4 0 0 1 22.8 21.9M101.4 13.5l1.0 0.0M96.5 18.2A1.5 1.5 0 0 1 95.1 20.7M65.0 35.1l-1.0 0.2M65.2 51.9A1.4 1.4 0 0 1 63.4 53.8M97.4 36.0l0.4 1.3M55.9 44.8l0.1 -1.2M89.9 42.0l1.5 -0.4M74.5 13.1A1.2 1.2 0 0 1 76.6 13.0M97.7 20.4l1.3 -0.6M62.2 43.2A1.1 1.1 0 0 1 60.4 42.2M70.8 22.5A0.7 0.7 0 0 1 72.0 23.2M71.4 18.3l0.9 -1.0M43.2 37.4A1.0 1.0 0 0 1 42.1 36.3M46.6 12.0A1.1 1.1 0 0 1 48.7 12.0M13.4 11.2l-0.8 -0.8M33.7 32.7A1.3 1.3 0 0 1 35.5 32.0M79.0 11.7A1.0 1.0 0 0 1 77.0 12.0M79.7 17.1l-1.0 -0.5M45.3 38.8A1.0 1.0 0 0 1 44.9 40.6M4.1 35.3A1.1 1.1 0 0 1 5.8 34.2M45.1 34.3A0.9 0.9 0 0 1 44.9 36.1M62.9 39.4A1.4 1.4 0 0 1 64.3 41.8M36.0 16.4A1.4 1.4 0 0 1 38.1 15.8M95.4 26.8A0.7 0.7 0 0 1 96.7 26.8M71.9 23.6A1.4 1.4 0 0 1 73.3 26.1M73.4 45.5l-2.0 0.3M63.2 45.7A1.0 1.0 0 0 1 64.5 44.2M83.2 36.2A1.3 1.3 0 0 1 85.8 36.3M62.6 38.3A1.1 1.1 0 0 1 63.3 36.8M15.0 34.6A1.0 1.0 0 0 1 16.8 35.2M53.2 26.3A1.3 1.3 0 0 1 52.7 24.2M80.1 33.7A1.0 1.0 0 0 1 78.8 34.7M41.1 22.1l1.3 -0.2M25.0 37.3l1.1 1.4M28.4 39.3l-0.9 -0.7M98.4 12.7A0.7 0.7 0 0 1 98.8 11.5M69.1 34.8l-1.1 -0.2M21.2 18.9A1.0 1.0 0 0 1 19.5 19.1M49.1 15.9l-0.1 1.0M68.4 10.0A1.3 1.3 0 0 1 68.8 7.7M73.9 10.4A0.8 0.8 0 0 1 74.8 9.8M80.8 8.0A0.9 0.9 0 0 1 79.1 8.1M71.8 21.2A0.8 0.8 0 0 1 70.7 22.3M92.8 25.8A1.1 1.1 0 0 1 92.9 27.7M64.2 31.7l-0.1 1.5M22.6 26.7l0.5 -1.7M17.8 39.4A1.0 1.0 0 0 1 18.0 41.3M82.8 44.2A1.3 1.3 0 0 1 82.7 46.6M96.7 21.5A1.4 1.4 0 0 1 99.3 21.4M23.1 34.9A0.9 0.9 0 0 1 23.4 33.5M23.4 34.1l-0.1 -1.5M48.3 24.6A1.2 1.2 0 0 1 46.6 25.9M65.5 26.7A1.4 1.4 0 0 1 63.0 26.9M34.3 14.7l-1.2 -0.6M26.2 11.7A0.9 0.9 0 0 1 24.5 11.1M16.9 23.8l0.1 1.7M93.0 40.4A1.1 1.1 0 0 1 93.2 38.3M53.8 19.4l0.2 1.0M44.0 25.6A1.1 1.1 0 0 1 44.3 27.7M8.7 8.7A0.9 0.9 0 0 1 10.0 9.9M62.2 38.1A1.0 1.0 0 0 1 61.5 39.9M60.8 51.8A1.2 1.2 0 0 1 60.0 50.2M73.2 10.2A1.1 1.1 0 0 1 72.0 11.6M54.6 35.4l1.3 -1.4M79.0 14.2A0.8 0.8 0 0 1 77.7 15.1M7.2 19.6A0.8 0.8 0 0 1 6.1 18.4M24.4 17.4A1.4 1.4 0 0 1 26.8 17.1M5.4 13.7A0.7 0.7 0 0 1 6.7 14.3M78.7 12.5A1.3 1.3 0 0 1 76.7 11.4M65.8 17.3A1.2 1.2 0 0 1 67.3 18.7M56.5 13.4A1.5 1.5 0 0 1 54.2 15.0M101.6 18.7A0.8 0.8 0 0 1 101.4 17.4M26.1 33.8l1.1 -1.6M57.9 8.6A0.7 0.7 0 0 1 58.1 7.2M50.6 13.9l0.7 1.5M67.0 37.2A1.1 1.1 0 0 1 68.7 37.3M30.3 23.0A1.1 1.1 0 0 1 29.2 24.9M47.5 20.5l-0.7 0.7M68.5 39.8A1.4 1.4 0 0 1 70.1 37.5M88.8 34.8A1.1 1.1 0 0 1 89.0 32.9M99.6 39.7l-0.2 -1.1M72.5 5.8A1.4 1.4 0 0 1 73.6 7.6M93.4 9.4l-0.1 1.7M44.5 38.1l-0.2 -1.8M76.8 39.5A0.9 0.9 0 0 1 78.5 39.5M73.7 49.0A1.4 1.4 0 0 1 73.9 51.1M63.5 36.1l-1.4 0.8M96.9 30.5l0.9 -1.1M70.5 32.5A0.9 0.9 0 0 1 70.1 30.7M18.1 35.2A1.5 1.5 0 0 1 19.4 37.8M59.9 19.1A1.1 1.1 0 0 1 58.7 18.2M81.5 21.8l-1.6 0.8M23.0 6.7A0.9 0.9 0 0 1 21.6 8.0M60.9 34.1A0.9 0.9 0 0 1 59.3 34.7M99.7 29.7A0.8 0.8 0 0 1 101.3 30.1M23.5 17.6A1.5 1.5 0 0 1 21.8 20.0M73.6 28.0l-1.0 -0.6M69.4 52.8A0.9 0.9 0 0 1 68.5 51.5M52.4 9.0l-1.1 0.2M30.3 23.1A0.9 0.9 0 0 1 30.8 24.5M52.4 28.4l1.7 0.3M18.6 20.4A1.5 1.5 0 0 1 21.0 20.5M6.8 19.8l1.1 1.4M99.5 18.3A1.5 1.5 0 0 1 98.0 20.8M23.6 29.1l1.0 0.6M63.9 22.4A1.1 1.1 0 0 1 62.2 22.1M10.5 12.9A1.3 1.3 0 0 1 7.9 12.8M72.2 22.5A1.3 1.3 0 0 1 69.9 23.7M89.5 22.1l-1.4 -0.7M73.5 35.3l0.1 -1.5M99.9 40.9l-0.9 1.3M55.7 19.1l-0.0 -1.5M43.1 11.6l-1.7 0.6M97.1 11.8A0.8 0.8 0 0 1 98.3 11.6M51.0 36.6A0.7 0.7 0 0 1 50.7 38.0M46.6 11.0l0.4 0.9M8.1 37.8l-0.7 1.8M32.7 27.7A1.3 1.3 0 0 1 34.4 26.1M28.8 10.6l2.0 -0.0M80.9 6.9l0.5 1.7M16.5 13.1l-0.9 -0.3M41.3 25.4l1.2 -0.6M17.3 22.3l-0.3 1.1M41.4 5.5A0.9 0.9 0 0 1 40.1 4.5M50.0 39.8A0.7 0.7 0 0 1 49.1 40.3M46.1 20.4A1.0 1.0 0 0 1 48.1 20.7M7.2 38.0l-0.8 -0.7M31.8 27.8l-1.8 -0.1M45.3 30.6A1.3 1.3 0 0 1 46.9 31.4M65.8 20.2l0.5 -1.5M60.6 39.1A1.3 1.3 0 0 1 62.6 37.7M39.5 42.6A1.2 1.2 0 0 1 41.4 42.7M40.4 40.2A1.4 1.4 0 0 1 42.3 38.1M15.2 41.6A1.4 1.4 0 0 1 15.0 39.5M23.6 8.0A1.2 1.2 0 0 1 22.2 6.7M43.8 11.8A1.3 1.3 0 0 1 44.7 13.4M7.4 38.9A1.1 1.1 0 0 1 5.3 39.3M68.0 46.8l-1.8 0.6M83.2 27.1l0.8 1.5M75.7 51.1l-0.2 1.3M42.7 17.7A0.9 0.9 0 0 1 44.4 18.4M46.6 6.8l-1.6 0.7M95.6 28.8A0.8 0.8 0 0 1 94.3 28.7M88.9 40.6l-0.8 1.0M63.5 31.6l0.2 -1.7M53.0 26.3A1.0 1.0 0 0 1 54.5 27.7M76.7 20.7l-1.4 0.7M101.7 15.3A0.7 0.7 0 0 1 101.6 16.6M97.0 30.9A0.9 0.9 0 0 1 95.6 31.9M71.7 25.1l0.4 -1.3M39.3 33.2l-0.8 1.6M42.9 16.0l0.4 -1.5M66.1 12.4A0.9 0.9 0 0 1 66.8 11.1M96.6 29.4A1.4 1.4 0 0 1 97.9 27.4M89.9 29.5l1.3 0.4M29.7 32.4l1.0 1.1M101.5 12.5l0.8 -1.3M32.9 34.3A0.9 0.9 0 0 1 32.5 35.8M57.1 28.4A1.1 1.1 0 0 1 57.4 30.1M10.7 34.6A0.9 0.9 0 0 1 11.4 33.6M96.8 33.3l-0.6 -1.7" stroke="#b8b8b8" stroke-width="0.7" fill="none" stroke-linecap="round"/><path d="M61.6 47.4A1.4 1.4 0 0 1 64.2 47.0M86.8 37.2A1.4 1.4 0 0 1 85.4 38.8M10.3 14.7A1.5 1.5 0 0 1 8.0 15.0M93.0 45.3l-0.7 -1.7M41.4 36.7l0.9 1.0M74.6 51.1l1.8 0.4M6.4 42.8A1.2 1.2 0 0 1 8.3 43.6M93.1 30.7l-0.8 0.5M88.3 17.9A1.0 1.0 0 0 1 89.0 16.1M21.6 30.2A0.9 0.9 0 0 1 20.3 29.2M59.1 19.9l0.2 -1.5M61.2 44.5l1.1 -0.8M65.1 22.9A1.3 1.3 0 0 1 66.8 24.0M51.4 23.8l-0.1 -1.8M91.2 16.3l1.2 1.1M95.2 25.8A1.3 1.3 0 0 1 94.0 28.2M34.3 15.1l0.2 1.7M66.7 56.5A1.0 1.0 0 0 1 65.0 57.5M86.1 7.9A1.1 1.1 0 0 1 84.8 9.6M98.3 36.1A1.0 1.0 0 0 1 96.5 35.5M92.3 34.2A1.1 1.1 0 0 1 94.0 33.9M36.4 9.1l1.0 -0.9M93.1 46.4A1.4 1.4 0 0 1 92.7 43.6M76.4 22.5A1.3 1.3 0 0 1 74.4 21.0M21.0 35.1l-0.9 0.1M81.1 16.1l0.5 -1.7M95.4 44.1l1.6 0.6M16.7 32.9l-0.3 1.2M66.5 35.1A0.8 0.8 0 0 1 66.1 36.4M38.3 10.8l-0.7 -0.7M36.7 44.1A1.3 1.3 0 0 1 38.4 42.6M72.1 48.6l0.9 -0.8M51.6 34.7A1.0 1.0 0 0 1 53.0 35.8M30.7 18.8A1.0 1.0 0 0 1 28.9 19.6M57.3 31.1l-1.7 0.7M17.4 39.0l1.0 0.5M65.7 29.2l1.0 -0.7M74.9 17.2A1.1 1.1 0 0 1 74.8 19.0M82.7 12.5l-1.0 1.7M98.5 16.3l0.6 1.2M73.2 52.1A0.9 0.9 0 0 1 72.5 50.6M60.5 19.3A0.8 0.8 0 0 1 61.6 19.7M31.1 28.7l-0.6 -1.5M7.0 36.1A1.4 1.4 0 0 1 5.7 38.4M47.5 11.8A1.5 1.5 0 0 1 47.2 13.9M97.0 39.4A0.9 0.9 0 0 1 98.2 39.9M47.3 9.5A1.3 1.3 0 0 1 46.0 11.7M60.7 16.2A1.2 1.2 0 0 1 62.2 14.3M23.0 13.1A1.0 1.0 0 0 1 21.3 14.1M27.9 7.2A1.1 1.1 0 0 1 29.9 6.4M59.1 11.6l0.2 1.2M14.6 20.8A0.7 0.7 0 0 1 13.2 20.7M40.2 10.7l1.4 -1.4M58.6 43.3A1.0 1.0 0 0 1 59.7 41.7M59.2 6.3A1.1 1.1 0 0 1 60.5 8.0M64.9 9.8A1.5 1.5 0 0 1 67.2 8.6M95.6 39.7l0.3 1.8M62.0 45.0A1.2 1.2 0 0 1 61.5 42.8M67.7 11.4A1.4 1.4 0 0 1 69.9 11.6M61.0 40.4A0.9 0.9 0 0 1 61.8 41.9M24.8 30.5l1.5 -0.9M31.1 32.3l0.3 1.6M72.7 13.9l0.9 1.3M83.6 24.1A1.1 1.1 0 0 1 85.8 24.2M57.4 32.8l-0.3 1.3M24.4 8.1l1.5 -0.4M13.1 39.7l0.3 -1.1M61.8 10.8l2.0 0.3M87.6 20.8A0.8 0.8 0 0 1 88.5 19.5M14.0 26.7A1.2 1.2 0 0 1 16.2 27.7M22.6 34.4A0.8 0.8 0 0 1 23.5 35.6M23.1 42.1A0.7 0.7 0 0 1 22.1 42.3M70.9 34.1A0.7 0.7 0 0 1 72.1 34.8M74.0 51.3A1.3 1.3 0 0 1 72.9 53.4M61.2 52.3l0.2 -1.6M52.6 40.1l1.0 0.5M39.5 41.4A1.1 1.1 0 0 1 39.2 39.2M21.8 37.8A1.2 1.2 0 0 1 20.0 39.3M40.7 30.5A1.3 1.3 0 0 1 38.8 29.2M69.9 16.6l-0.5 1.2M38.3 31.1A0.8 0.8 0 0 1 38.0 29.9M56.1 9.3l0.3 -1.0M52.9 7.6A1.3 1.3 0 0 1 53.3 5.7M95.5 34.2l-0.6 -1.1M52.2 24.4A0.7 0.7 0 0 1 52.8 25.3M78.5 11.2A1.0 1.0 0 0 1 79.4 9.3M73.3 40.8l1.0 0.1M77.3 12.5A0.9 0.9 0 0 1 77.0 10.8M87.8 14.4A1.0 1.0 0 0 1 89.2 14.6M41.3 21.5l-1.7 0.7M95.1 18.2l-0.9 -0.5M52.5 29.1l-1.9 -0.3M44.0 34.7A1.3 1.3 0 0 1 43.2 33.0M87.6 16.9A0.7 0.7 0 0 1 88.9 16.2M27.4 26.0l-1.4 -0.5M27.6 39.6A1.3 1.3 0 0 1 29.7 39.4M56.7 33.3A1.2 1.2 0 0 1 54.6 34.3M57.9 47.0l0.1 -1.4M90.7 34.8A1.5 1.5 0 0 1 93.6 34.8M71.1 43.6l-0.3 -1.3M28.4 26.5A1.0 1.0 0 0 1 30.0 26.0M53.2 18.7A1.2 1.2 0 0 1 51.2 18.8M17.8 29.3A0.9 0.9 0 0 1 18.0 27.6M90.9 21.5A0.8 0.8 0 0 1 92.3 22.1M90.9 13.5A0.8 0.8 0 0 1 90.6 14.8M50.0 29.1A1.0 1.0 0 0 1 51.1 30.4M69.3 21.2A1.3 1.3 0 0 1 67.6 19.6M8.2 8.5l-1.0 -0.9M97.9 30.3A1.4 1.4 0 0 1 97.8 28.0M69.3 53.8A1.3 1.3 0 0 1 68.7 56.3M71.8 21.3l0.6 -1.2M82.6 25.9l0.3 -1.4M64.7 25.8A1.2 1.2 0 0 1 64.5 28.1M6.3 31.3A1.3 1.3 0 0 1 4.5 30.9M68.7 40.8A1.2 1.2 0 0 1 67.9 42.5M15.7 34.9A0.9 0.9 0 0 1 14.0 34.3M8.6 14.3l0.5 -1.5M65.9 7.4A1.2 1.2 0 0 1 67.8 8.0M15.3 42.5l0.9 -1.6M49.0 30.4A1.5 1.5 0 0 1 49.2 27.5M25.4 19.8A0.9 0.9 0 0 1 23.8 18.9M30.6 38.0l1.9 -0.2M80.4 22.9A1.1 1.1 0 0 1 80.6 25.0M87.4 15.9A1.1 1.1 0 0 1 89.0 14.9M12.1 40.3A1.3 1.3 0 0 1 11.1 38.7M15.7 38.5l0.0 -1.8M11.4 29.4l0.9 0.2M83.3 27.6A1.1 1.1 0 0 1 83.9 29.3M73.9 28.8A0.8 0.8 0 0 1 74.7 30.0M65.3 9.7l-1.3 1.2M68.9 25.7A1.1 1.1 0 0 1 66.6 25.8M72.9 29.1A1.4 1.4 0 0 1 72.8 31.4M98.6 40.5A1.5 1.5 0 0 1 95.8 40.2M97.1 24.8A0.7 0.7 0 0 1 96.3 24.3M21.3 23.8l-1.3 1.5M6.9 32.1A1.3 1.3 0 0 1 7.4 33.9M56.7 24.9l-0.3 1.1M25.5 39.0A1.4 1.4 0 0 1 26.8 41.0M70.9 51.8l1.6 0.3M84.6 14.6l0.9 1.3M29.5 29.0A1.1 1.1 0 0 1 28.9 31.1M22.3 11.7l1.1 -1.2M50.7 29.5l-1.3 1.1M48.5 31.6A0.8 0.8 0 0 1 47.4 30.4M67.2 40.2A0.8 0.8 0 0 1 68.1 41.1M41.0 36.7l-1.4 -0.3M60.9 17.7l-0.3 -0.9M41.9 16.3l-1.0 1.1M86.5 30.7A1.0 1.0 0 0 1 87.6 32.3M5.6 32.7A1.4 1.4 0 0 1 6.3 30.7M77.7 15.6l-1.7 0.4M76.9 23.8l0.2 1.5M67.1 20.5A1.2 1.2 0 0 1 65.6 18.8M93.0 15.7A1.0 1.0 0 0 1 94.9 16.5M29.6 28.1A0.9 0.9 0 0 1 30.6 29.6M41.5 37.2l-0.2 1.5M54.8 40.8l-0.2 -2.0M28.4 37.3A1.2 1.2 0 0 1 27.6 39.4M6.7 40.9l-0.1 1.4M78.5 6.3A0.7 0.7 0 0 1 78.7 7.5M10.1 16.7A1.3 1.3 0 0 1 9.1 18.9M25.3 37.5A1.3 1.3 0 0 1 23.1 36.3M19.3 37.6l0.9 1.3M31.4 31.2A1.2 1.2 0 0 1 31.6 33.7M59.0 20.1A1.1 1.1 0 0 1 60.7 21.4M36.7 24.2A1.3 1.3 0 0 1 35.5 22.1M61.2 13.8l-0.8 -1.2M19.6 12.9A1.4 1.4 0 0 1 21.0 10.6M78.6 26.9A0.8 0.8 0 0 1 77.4 27.0M54.8 40.3A1.0 1.0 0 0 1 56.3 39.0M13.2 32.9A1.4 1.4 0 0 1 11.8 34.6M98.3 42.5A1.3 1.3 0 0 1 99.8 41.3M31.9 22.8A1.1 1.1 0 0 1 33.3 21.5M40.7 23.4A1.5 1.5 0 0 1 37.8 23.8M38.7 13.2A0.8 0.8 0 0 1 37.7 12.6M10.9 9.2A1.4 1.4 0 0 1 9.0 11.3M99.2 17.5l-1.8 -0.4M96.8 17.2l0.9 -1.6M90.3 28.6l-1.9 0.0M18.6 30.4l-1.8 -0.7M25.4 31.7A1.4 1.4 0 0 1 25.7 29.3M24.9 15.4l1.3 1.0M41.1 41.6l-1.3 0.3M43.1 34.2l-0.9 -1.5M40.9 12.0l-0.2 -1.1M24.2 18.6A1.3 1.3 0 0 1 25.4 20.2M25.2 40.3A1.3 1.3 0 0 1 27.2 38.7M65.9 33.7A0.8 0.8 0 0 1 64.3 33.8M77.2 28.2A1.0 1.0 0 0 1 77.0 26.2M18.0 35.0A0.9 0.9 0 0 1 19.6 35.1M94.6 16.0A1.2 1.2 0 0 1 93.7 14.6M15.0 15.8l-0.4 1.2M37.5 39.4A1.0 1.0 0 0 1 39.6 39.9M81.4 21.6A0.9 0.9 0 0 1 80.0 22.4M47.1 14.2A1.3 1.3 0 0 1 48.9 12.3M65.8 23.5A1.0 1.0 0 0 1 65.5 25.2M47.2 20.0A1.0 1.0 0 0 1 48.1 21.7M41.0 38.1A1.1 1.1 0 0 1 40.7 36.3M78.9 25.8A0.8 0.8 0 0 1 77.8 25.4M73.2 31.5l0.5 1.4M25.0 24.5A1.2 1.2 0 0 1 23.6 26.0M61.3 25.1A0.8 0.8 0 0 1 61.5 23.5M85.8 40.6l-1.7 0.2M48.8 41.6A1.2 1.2 0 0 1 50.5 41.5M78.1 26.1l-0.4 -1.6M45.7 24.2l-0.7 -0.7M22.9 8.6l1.0 1.2M41.9 12.8A1.3 1.3 0 0 1 43.5 11.4M58.4 6.3A1.4 1.4 0 0 1 56.3 7.8M97.6 22.3l0.0 -1.0M28.7 15.0A1.2 1.2 0 0 1 30.6 16.4M99.8 16.0l0.4 -0.9M50.9 44.3A0.9 0.9 0 0 1 52.4 43.7M19.5 30.0l1.0 -0.7M59.8 11.3A1.4 1.4 0 0 1 60.2 9.2M80.0 7.4l-0.1 -1.3M94.2 31.6A1.2 1.2 0 0 1 94.9 33.5M71.6 26.4A1.0 1.0 0 0 1 70.4 24.9M5.4 30.0A1.4 1.4 0 0 1 3.9 32.4M43.0 42.4A1.4 1.4 0 0 1 42.9 45.2M33.6 39.7A1.0 1.0 0 0 1 34.9 40.8M38.2 8.8l1.6 -0.2M7.0 37.3l-1.3 0.5M62.8 19.2l1.0 -0.1M27.5 38.5l0.5 -1.1M76.0 6.8A1.3 1.3 0 0 1 78.1 7.0M51.5 15.9l0.5 -1.9M50.8 22.5l-0.4 -0.8M58.1 33.8l-1.3 1.0M93.8 15.7l1.7 0.6M26.3 31.9A0.9 0.9 0 0 1 25.8 33.3M13.1 22.8A0.7 0.7 0 0 1 12.7 21.7M23.4 17.9A1.0 1.0 0 0 1 21.5 17.0M59.5 7.2A1.2 1.2 0 0 1 61.2 8.6M13.9 41.3A1.3 1.3 0 0 1 16.1 42.2M20.1 23.1l1.1 -0.6M66.0 15.8A0.8 0.8 0 0 1 65.4 17.3M81.0 41.6A1.0 1.0 0 0 1 81.5 43.6M23.3 36.8A0.8 0.8 0 0 1 22.8 35.7M15.5 9.5A1.3 1.3 0 0 1 14.9 7.4M53.0 10.1l-0.8 1.4M98.9 35.1A1.4 1.4 0 0 1 97.6 37.2M90.2 42.8A1.3 1.3 0 0 1 89.3 40.3M45.9 15.6A0.7 0.7 0 0 1 46.3 14.3M7.8 31.7A0.8 0.8 0 0 1 6.4 32.4M30.5 36.9l-0.1 -1.8M83.4 13.9A0.8 0.8 0 0 1 83.3 12.5M38.1 35.9A1.2 1.2 0 0 1 36.1 36.8" stroke="#adadad" stroke-width="0.7" fill="none" stroke-linecap="round"/><path d="M90.9 14.8l-0.8 1.0M35.8 15.7A1.4 1.4 0 0 1 33.3 16.2M94.3 43.4l-1.0 -0.5M37.8 23.8l1.2 -0.7M51.0 12.7A1.4 1.4 0 0 1 48.6 12.1M97.4 33.7l-1.1 -0.9M86.8 11.3A1.4 1.4 0 0 1 84.5 12.2M46.2 34.5A1.1 1.1 0 0 1 44.3 33.4M17.1 10.9A1.0 1.0 0 0 1 17.3 12.3M16.4 11.4A0.8 0.8 0 0 1 15.1 10.6M79.0 43.5A1.0 1.0 0 0 1 78.7 41.7M41.0 38.7l0.3 1.5M85.0 26.6l-0.9 0.9M39.3 26.7l0.9 0.4M19.8 16.5A0.8 0.8 0 0 1 18.6 15.6M59.5 20.6A1.1 1.1 0 0 1 58.7 18.5M59.3 14.0A0.7 0.7 0 0 1 59.7 12.6M42.9 29.5l-1.7 0.7M92.7 28.7A1.5 1.5 0 0 1 90.2 27.1M29.5 35.0A0.9 0.9 0 0 1 29.0 33.3M86.8 26.4A1.3 1.3 0 0 1 88.4 24.5M85.4 23.3A1.0 1.0 0 0 1 84.8 21.4M81.0 16.1A0.8 0.8 0 0 1 81.7 17.1M49.3 34.4A0.7 0.7 0 0 1 48.2 34.9M56.6 40.2l0.8 0.4M6.3 17.3A1.0 1.0 0 0 1 5.4 15.9M47.4 18.0l-1.3 0.4M97.6 26.0l1.6 0.6M56.0 34.5A0.9 0.9 0 0 1 54.7 33.5M59.2 40.5l-1.1 0.3M62.4 43.7A1.4 1.4 0 0 1 61.8 41.0M71.8 46.6A0.9 0.9 0 0 1 72.9 45.1M72.1 50.8A1.1 1.1 0 0 1 71.8 53.0M93.9 23.7l1.3 1.0M46.6 23.7l0.5 -0.8M93.9 13.4A0.9 0.9 0 0 1 92.7 13.9M16.7 7.8l-0.6 1.4M91.9 29.1A1.0 1.0 0 0 1 92.0 30.8M41.9 17.2l-2.0 0.1M76.9 25.2l-0.2 -1.6M14.4 21.3l0.1 1.3M25.9 28.5l-2.0 -0.3M11.0 11.6l0.5 1.9M83.4 28.5A0.7 0.7 0 0 1 82.3 29.0M81.4 43.7l1.1 -0.8M61.4 43.0A1.2 1.2 0 0 1 61.2 41.2M72.6 7.6A1.5 1.5 0 0 1 75.4 7.0M62.2 32.8A1.1 1.1 0 0 1 64.0 31.7M42.5 35.7A0.9 0.9 0 0 1 41.2 35.6M16.8 16.9A0.7 0.7 0 0 1 16.0 18.0M66.4 50.3l-1.7 0.9M91.2 42.7l0.7 -0.5M16.8 31.5l1.5 1.3M39.2 12.4A0.8 0.8 0 0 1 39.1 13.8" stroke="#666666" stroke-width="0.9" fill="none" stroke-linecap="round"/><path d="M57 40 C54 32 48 26 38 22M58 38 C63 31 70 26 82 22M57 30 C50 24 40 18 26 15M59 34 C68 28 80 22 94 16" stroke="#939393" stroke-width="0.8" fill="none" stroke-linecap="round"/><path d="M9 45.5 C18 43.5 30 42.5 44 43M9.5 51.5 C18 49.5 30 48.5 44.5 49M74.2 58 L74.2 90" stroke="#6e6e6e" stroke-width="0.9" fill="none" stroke-linecap="round"/><path d="M12 49.7l0 -3.2 l2 3.2 l0 -3.2M16 49.4l0 -3.2 l2 3.2 l0 -3.2M20 49.0l0 -3.2 l2 3.2 l0 -3.2M25 48.7l0 -3.2 l2 3.2 l0 -3.2M29 48.3l0 -3.2 l2 3.2 l0 -3.2M33 48.0l0 -3.2 l2 3.2 l0 -3.2M37 47.6l0 -3.2 l2 3.2 l0 -3.2M41 47.2l0 -3.2 l2 3.2 l0 -3.2M73.8 54 C73.3 56 73.6 60 73.8 64 C74 72 74.5 80 74.5 87M76 60 C77 70 77.5 78 77.5 87" stroke="#7a7a7a" stroke-width="0.8" fill="none" stroke-linecap="round"/><path d="M9 45.5 C6 48 5 52 8 55 C11 58 9 62 6 64 C4 66 5 68 7 68M12 51 C10 56 15 58 17 56 C19 53 22 56 21 60 C20 63 16 64 14 63M22 50 C26 52 28 56 26 60 C25 63 28 66 32 64M33 49 C37 51 40 54 38 58 C36 62 40 64 43 62 C46 59 45 55 42 52M44 43 C48 45 49 50 46 53M14 60 C16 64 12 66 10 66" stroke="#6a6a6a" stroke-width="1.1" fill="none" stroke-linecap="round"/><path d="M33.1 53.2A1.0 1.0 0 0 1 31.8 52.9M44.5 51.0A1.2 1.2 0 0 1 45.8 49.1M35.5 50.9l1.2 -1.5M19.4 64.7l0.3 -1.9M37.3 64.3A1.1 1.1 0 0 1 37.1 62.3M47.4 51.8l-0.2 1.7M32.8 53.3l0.1 1.8M7.3 62.5A0.9 0.9 0 0 1 7.9 64.1M19.6 60.6A1.2 1.2 0 0 1 17.5 61.7M38.0 56.6A1.2 1.2 0 0 1 39.4 58.1M44.8 55.5A1.4 1.4 0 0 1 42.7 54.2M19.4 61.4A1.3 1.3 0 0 1 18.8 59.4M25.3 60.2A1.0 1.0 0 0 1 26.1 61.7M6.1 56.3A1.4 1.4 0 0 1 5.2 58.5M20.7 52.7l-1.4 -1.4M9.4 58.3l0.9 -1.1M33.9 63.6A1.1 1.1 0 0 1 36.0 64.0M4.7 65.3A1.1 1.1 0 0 1 6.6 66.3M43.1 56.0A0.7 0.7 0 0 1 42.1 55.8M25.8 63.5A1.4 1.4 0 0 1 24.0 65.4M20.1 57.6A0.8 0.8 0 0 1 19.1 58.9M4.4 63.7l-0.0 1.6M6.3 58.9A1.2 1.2 0 0 1 4.7 58.3M11.5 62.7A0.7 0.7 0 0 1 11.5 63.9M34.4 50.8A0.8 0.8 0 0 1 35.5 51.7M6.1 50.2A1.0 1.0 0 0 1 6.8 51.9M22.2 51.3A1.1 1.1 0 0 1 21.7 49.7M46.5 52.7l0.1 1.2M26.5 52.3l0.7 -1.2M15.0 52.9l1.3 -0.4M21.3 66.9A0.7 0.7 0 0 1 22.3 67.1M13.9 66.9l0.9 -1.6M9.9 57.9A0.8 0.8 0 0 1 11.4 57.9M22.7 59.3A1.0 1.0 0 0 1 21.9 58.0M19.0 61.7A0.9 0.9 0 0 1 18.9 60.1M22.8 63.8A1.2 1.2 0 0 1 22.0 66.0M22.7 67.2A1.2 1.2 0 0 1 24.7 66.1M35.3 54.4A1.2 1.2 0 0 1 35.1 56.5M22.1 55.8l0.2 -1.0M13.5 68.1l-1.6 0.2M11.0 58.7A0.8 0.8 0 0 1 12.1 57.8M29.7 56.4A1.0 1.0 0 0 1 31.2 55.7M37.1 64.8l1.9 0.5M28.4 52.7A1.3 1.3 0 0 1 26.1 51.5" stroke="#9a9a9a" stroke-width="0.7" fill="none" stroke-linecap="round"/><path d="M29.8 54.3l-0.4 -1.4M30.6 55.6l1.2 0.7M7.2 52.3A1.2 1.2 0 0 1 4.8 52.2M10.1 51.5l-1.8 0.2M21.6 56.6l-1.0 -0.4M28.1 63.0l0.1 1.0M8.4 64.7l1.8 -0.7M37.3 63.9l-1.6 -1.1M34.6 58.0A0.8 0.8 0 0 1 34.8 59.4M10.1 67.1A1.2 1.2 0 0 1 12.3 67.9M35.0 56.8A1.0 1.0 0 0 1 36.3 58.3M39.6 62.3l-1.0 -0.6M22.7 67.4l-0.3 1.1M44.1 56.7A1.2 1.2 0 0 1 42.0 55.5M19.8 51.5l-1.1 -1.6M32.9 64.6A0.9 0.9 0 0 1 33.0 63.4M31.6 55.4l-2.0 -0.0M14.5 64.9l-1.0 1.4M32.5 52.7l0.1 1.0M31.5 58.4A1.5 1.5 0 0 1 29.3 56.9M38.9 65.0l1.0 -0.7M29.7 63.7A0.8 0.8 0 0 1 31.0 64.3M9.0 50.6A0.9 0.9 0 0 1 10.7 50.7M27.3 61.8l1.2 1.1M46.9 53.8A1.4 1.4 0 0 1 47.3 56.3M12.6 61.4A1.5 1.5 0 0 1 11.4 63.1M27.4 69.5A1.2 1.2 0 0 1 25.6 68.3M40.6 55.7l0.7 -0.9M46.1 52.6A0.9 0.9 0 0 1 47.7 52.8M7.2 57.4A0.9 0.9 0 0 1 8.2 55.8M13.2 61.7A1.0 1.0 0 0 1 11.5 60.9M6.4 50.7l-0.3 -1.9M25.2 66.3A1.0 1.0 0 0 1 24.5 67.5M19.1 61.7A1.5 1.5 0 0 1 20.9 63.9M26.9 57.6l0.6 1.7M46.1 58.7A0.9 0.9 0 0 1 47.7 58.0M30.9 55.8l-1.6 -0.2M36.1 62.1A1.4 1.4 0 0 1 33.7 61.1M17.8 63.4A0.7 0.7 0 0 1 18.2 62.3M30.8 53.9l-0.7 1.5M23.6 62.8A0.9 0.9 0 0 1 23.0 61.1M43.9 49.6A1.3 1.3 0 0 1 42.5 51.8M33.6 61.7l0.8 -0.8M17.3 57.9l-1.1 1.1M7.4 56.6A1.2 1.2 0 0 1 6.2 57.8M37.5 55.6l1.4 -1.0M19.4 55.4A1.3 1.3 0 0 1 20.5 57.5M42.6 51.7l0.9 -1.2M34.4 52.7A1.0 1.0 0 0 1 34.1 51.2M8.3 62.1l1.6 -0.5M45.7 55.5A1.0 1.0 0 0 1 44.7 54.3" stroke="#6e6e6e" stroke-width="0.7" fill="none" stroke-linecap="round"/><path d="M7.5 53.8A1.2 1.2 0 0 1 8.3 51.7M39.8 56.8A1.5 1.5 0 0 1 38.9 58.8M19.2 63.0l0.1 -1.5M21.3 52.1l-0.5 -0.9M21.9 55.9l-1.6 -0.8M20.7 55.6l1.1 1.6M40.3 56.2A0.7 0.7 0 0 1 39.6 57.5M26.5 67.0A1.2 1.2 0 0 1 27.0 69.4M13.2 66.0A0.9 0.9 0 0 1 12.0 67.3M24.8 68.2l0.5 1.7M7.9 56.2A1.5 1.5 0 0 1 6.3 57.9M14.6 65.5A1.3 1.3 0 0 1 13.2 67.6M26.7 54.0l1.1 1.2M30.4 58.3A1.1 1.1 0 0 1 32.1 57.5M25.9 61.4A1.0 1.0 0 0 1 26.5 60.1M25.7 51.1A1.3 1.3 0 0 1 26.5 53.3M30.5 65.7A1.3 1.3 0 0 1 28.5 64.3M6.1 62.5A1.3 1.3 0 0 1 8.3 62.9M30.8 60.6A0.8 0.8 0 0 1 31.4 62.0M18.5 63.7A1.0 1.0 0 0 1 17.8 65.4M28.2 64.9A1.3 1.3 0 0 1 29.5 62.8M35.1 54.3l-0.6 -1.2M41.6 52.6A0.9 0.9 0 0 1 39.9 52.7M19.5 66.9l1.3 -1.4M17.4 57.0A1.3 1.3 0 0 1 19.8 58.0M19.3 57.3A0.9 0.9 0 0 1 19.9 55.9M46.6 51.2A0.7 0.7 0 0 1 47.8 52.0M13.0 64.6l0.8 -1.4M40.4 50.0A1.0 1.0 0 0 1 40.2 51.6M37.9 52.1l-1.6 -0.5M41.7 57.3A1.1 1.1 0 0 1 39.6 56.6M47.0 57.6A0.9 0.9 0 0 1 47.3 58.8M21.7 56.8l-0.3 1.2M9.0 57.1l1.3 0.8M26.2 61.8l1.1 -1.3M31.6 56.2l1.9 -0.3M24.4 67.8l-1.3 -0.7M39.0 52.9l0.3 1.1M19.5 65.8l0.9 1.1M42.4 59.0l1.5 -0.1M11.0 61.7l-1.7 -0.1M22.1 53.8A0.9 0.9 0 0 1 23.5 54.2M13.0 61.6A1.0 1.0 0 0 1 12.2 59.8M22.3 66.0A1.3 1.3 0 0 1 23.4 63.7M9.8 67.0l-0.1 1.0M26.9 55.9l-0.9 1.2" stroke="#858585" stroke-width="0.7" fill="none" stroke-linecap="round"/><path d="M57 32 C56 44 56 56 56.5 68 C57 76 57.5 80 59 83 C61 86 64 87 67 86" stroke="#6a6a6a" stroke-width="1.5" fill="none" stroke-linecap="round"/><path d="M62 44 C63 54 64 64 64 74" stroke="#8a8a8a" stroke-width="1.0" fill="none" stroke-linecap="round"/><path d="M58.4 51.5l1.1 0.8M54.0 69.1A0.9 0.9 0 0 1 53.4 67.5M69.2 75.7l-0.4 -1.4M74.2 78.4A0.9 0.9 0 0 1 73.5 79.6M80.6 72.7A1.2 1.2 0 0 1 78.3 72.3M61.3 59.1A0.9 0.9 0 0 1 62.1 60.6M70.4 65.9A1.4 1.4 0 0 1 68.4 67.2M49.7 69.1A1.0 1.0 0 0 1 48.1 70.2M82.8 49.9A0.8 0.8 0 0 1 83.6 51.1M51.6 62.2l-1.0 -1.4M61.1 75.9A1.0 1.0 0 0 1 60.6 74.2M67.4 74.3l-1.0 -0.4M59.3 89.4A1.4 1.4 0 0 1 61.0 88.4M54.9 43.9A1.2 1.2 0 0 1 52.6 44.6M61.9 64.6A1.5 1.5 0 0 1 63.9 63.8M75.7 60.0l-0.7 0.8M77.4 61.5A0.8 0.8 0 0 1 78.4 60.6M71.8 87.3A1.2 1.2 0 0 1 73.0 89.4M81.2 66.4l1.1 0.0M70.0 62.3A1.4 1.4 0 0 1 71.3 64.8M50.6 53.0A1.3 1.3 0 0 1 52.5 52.9M71.0 77.3l-0.3 -0.9M50.9 55.1l0.5 1.9M58.9 88.1A1.4 1.4 0 0 1 56.2 87.6M53.7 84.9A1.4 1.4 0 0 1 53.9 87.7M46.0 55.6A0.9 0.9 0 0 1 47.4 55.0M54.4 57.7A1.4 1.4 0 0 1 55.9 60.1M62.3 61.8A0.9 0.9 0 0 1 61.9 60.4M58.2 72.4l-1.4 1.1M80.4 74.1l-0.0 -0.9M52.6 85.3A1.4 1.4 0 0 1 54.6 87.1M67.5 56.6A1.5 1.5 0 0 1 69.4 54.4M68.2 52.9A0.8 0.8 0 0 1 69.4 52.0M53.0 51.5l0.7 -0.6M67.2 68.5l-0.1 1.9M52.6 46.2A1.0 1.0 0 0 1 51.2 44.9M51.8 59.7l0.9 -0.2M78.3 75.5A1.0 1.0 0 0 1 78.6 77.0M70.7 90.0l1.0 -0.6M59.4 63.9A0.8 0.8 0 0 1 57.9 63.8M76.2 52.4A1.2 1.2 0 0 1 78.0 51.3M75.6 58.8A1.1 1.1 0 0 1 77.6 58.6M67.4 52.3A1.2 1.2 0 0 1 69.1 54.2M57.5 45.1A0.7 0.7 0 0 1 56.1 44.6M51.3 85.3A1.1 1.1 0 0 1 53.4 85.6M80.0 75.2A0.9 0.9 0 0 1 78.9 76.7M62.4 56.1A1.0 1.0 0 0 1 64.4 56.8M53.4 77.0l0.3 -1.8M75.3 87.6l-0.5 1.5M77.5 62.9l-0.4 -1.0M76.1 65.2A1.3 1.3 0 0 1 77.4 66.3M55.8 83.6A1.4 1.4 0 0 1 56.9 81.9M51.6 63.2A1.4 1.4 0 0 1 54.0 61.8M54.3 49.4A1.0 1.0 0 0 1 53.5 47.8M60.5 90.0A0.7 0.7 0 0 1 60.3 88.8M54.7 83.5l0.1 1.3M64.9 71.9A1.3 1.3 0 0 1 62.9 70.7M62.1 75.4A1.4 1.4 0 0 1 60.0 75.9M75.4 59.9A1.1 1.1 0 0 1 73.7 59.0M72.9 76.0A1.4 1.4 0 0 1 71.9 78.0M68.2 80.2A1.1 1.1 0 0 1 70.0 80.8M62.5 59.5A1.1 1.1 0 0 1 63.6 57.6M57.4 81.2A1.0 1.0 0 0 1 59.0 81.4M61.7 79.8A0.9 0.9 0 0 1 62.4 78.8M79.6 66.4A1.3 1.3 0 0 1 78.5 64.9M55.7 81.5A1.1 1.1 0 0 1 57.2 79.8M75.8 63.1A0.9 0.9 0 0 1 73.9 63.2M78.5 53.5A1.3 1.3 0 0 1 79.7 51.2M73.6 51.3A0.8 0.8 0 0 1 72.3 51.0M66.3 49.0l0.7 -0.8M77.9 72.7l-0.1 0.9M52.7 53.1A1.1 1.1 0 0 1 51.1 53.3M53.2 66.4l1.0 -1.4M55.0 49.2A0.9 0.9 0 0 1 54.0 50.7M55.1 58.0A0.7 0.7 0 0 1 53.8 57.5M63.7 55.2A1.5 1.5 0 0 1 62.2 52.9M65.5 66.4A0.9 0.9 0 0 1 63.9 65.8M53.3 55.6A1.3 1.3 0 0 1 53.5 57.5M49.9 53.0l0.9 -0.7M63.2 51.9A1.1 1.1 0 0 1 64.8 53.2M56.9 71.5l0.5 0.9M69.5 48.7A1.1 1.1 0 0 1 71.0 47.4M47.3 54.9l-1.3 -1.0M51.6 78.1A1.4 1.4 0 0 1 53.1 76.1" stroke="#8e8e8e" stroke-width="0.7" fill="none" stroke-linecap="round"/><path d="M56.8 70.4A1.0 1.0 0 0 1 56.9 68.7M75.2 50.2l0.9 -0.3M47.4 69.5A1.0 1.0 0 0 1 49.0 70.4M62.5 50.0A0.8 0.8 0 0 1 62.5 51.6M79.8 66.0l0.2 1.0M47.2 47.5l-1.9 0.5M66.3 82.6l-0.8 0.7M58.3 85.5A1.4 1.4 0 0 1 60.8 84.7M47.7 46.1A1.2 1.2 0 0 1 49.3 46.7M58.9 54.6A1.4 1.4 0 0 1 59.7 57.2M52.1 74.7A1.0 1.0 0 0 1 51.8 76.2M79.5 80.9A1.3 1.3 0 0 1 78.7 78.9M56.1 61.9l0.6 -0.7M73.8 80.2l1.5 0.2M76.1 69.0A1.1 1.1 0 0 1 77.3 68.2M49.5 58.4l-1.0 1.4M56.5 44.1l-1.5 -0.6M59.3 69.0A0.8 0.8 0 0 1 59.1 67.8M66.0 82.4A1.2 1.2 0 0 1 64.3 82.4M62.8 88.6l-0.3 -1.7M52.7 62.9A0.9 0.9 0 0 1 51.2 62.5M72.9 51.7A0.8 0.8 0 0 1 72.3 50.8M76.3 72.1A1.1 1.1 0 0 1 77.3 73.9M77.9 83.8l1.9 0.6M57.4 88.2A0.9 0.9 0 0 1 56.7 87.0M76.7 71.3l-1.0 1.7M70.7 86.0A0.9 0.9 0 0 1 72.4 85.9M74.2 88.1A0.9 0.9 0 0 1 74.1 89.6M54.4 80.9A1.5 1.5 0 0 1 53.3 83.0M78.9 76.2A0.7 0.7 0 0 1 79.1 77.4M58.2 48.5l-0.8 -1.4M53.1 57.1l1.9 -0.1M54.8 69.0A0.8 0.8 0 0 1 53.8 68.4M80.1 64.5A1.4 1.4 0 0 1 82.0 63.8M48.0 50.2l0.4 1.5M56.9 60.6l-0.8 1.1M66.0 60.7A0.8 0.8 0 0 1 66.2 59.6M80.2 77.4A0.9 0.9 0 0 1 79.1 76.5M60.0 64.4A1.1 1.1 0 0 1 58.1 63.7M68.2 82.5A1.2 1.2 0 0 1 68.6 84.8M72.8 69.0l1.2 1.0M56.1 60.0A1.4 1.4 0 0 1 55.4 62.3M54.4 75.9A1.5 1.5 0 0 1 55.7 78.5M67.2 65.1A0.7 0.7 0 0 1 66.2 65.9M72.1 69.2A1.1 1.1 0 0 1 73.5 70.6M69.2 72.4A1.4 1.4 0 0 1 67.1 73.9M58.2 72.9A1.3 1.3 0 0 1 57.0 71.5M51.3 50.9A0.9 0.9 0 0 1 51.6 52.1M46.6 70.8A0.9 0.9 0 0 1 47.8 69.8M81.8 53.5l0.2 1.3M53.0 64.6l-1.2 1.3M62.6 49.9A0.8 0.8 0 0 1 61.2 50.2M45.3 53.4l0.9 1.4M80.3 62.2l-0.4 1.4M82.9 49.4l-0.3 1.1M66.9 77.4l-1.6 0.1M67.0 87.5l-0.6 0.8M48.8 65.4A1.5 1.5 0 0 1 46.1 64.4M45.6 47.1l0.9 0.4M80.1 78.1A1.4 1.4 0 0 1 77.6 79.1M58.7 74.8A1.5 1.5 0 0 1 61.2 74.8M71.9 77.9l1.6 0.2M78.4 77.3A0.8 0.8 0 0 1 77.6 78.6M67.9 63.9l-1.8 0.5M66.2 51.0A1.2 1.2 0 0 1 65.0 49.6M56.7 77.7A1.2 1.2 0 0 1 54.6 78.5M66.9 77.9A1.1 1.1 0 0 1 65.0 78.7M69.7 68.2l-1.1 0.3M47.6 56.2A0.8 0.8 0 0 1 47.2 57.7M77.5 49.7A0.8 0.8 0 0 1 76.9 50.9M65.7 82.6A1.4 1.4 0 0 1 64.0 84.6M66.0 55.9A1.3 1.3 0 0 1 67.2 57.7M76.7 79.7A1.3 1.3 0 0 1 76.6 77.5M75.5 88.1l-1.3 -0.8M63.0 52.2l-0.4 1.3M76.2 78.3A1.1 1.1 0 0 1 74.9 77.6" stroke="#b0b0b0" stroke-width="0.7" fill="none" stroke-linecap="round"/><path d="M81.5 53.5 C83.5 58 84.5 66 84.5 74 C84.5 80 84.2 84 83.8 87" stroke="#666666" stroke-width="1.0" fill="none" stroke-linecap="round"/><path d="M78.5 68.1A1.2 1.2 0 0 1 79.2 69.8M84.0 60.1A1.0 1.0 0 0 1 84.4 61.9M75.1 63.8l-1.3 1.1M75.4 80.8l1.2 0.6M83.5 64.2A0.8 0.8 0 0 1 83.2 62.8M79.5 82.7A0.7 0.7 0 0 1 79.5 81.5M77.6 76.3A1.2 1.2 0 0 1 79.1 77.3M77.0 59.6A1.4 1.4 0 0 1 79.7 59.3M84.8 53.9A1.0 1.0 0 0 1 83.6 55.3M79.8 64.8A1.5 1.5 0 0 1 77.3 65.8M80.5 60.1l1.2 -1.5M80.5 76.0A1.0 1.0 0 0 1 81.9 76.8M80.2 67.8l-1.1 -0.1M79.3 59.1A1.1 1.1 0 0 1 78.6 61.2M78.9 72.9A1.3 1.3 0 0 1 76.7 74.2M81.5 76.0l-1.1 0.8M78.9 58.7A0.8 0.8 0 0 1 77.8 59.3M76.8 56.6A0.8 0.8 0 0 1 75.6 56.2M81.3 77.3A1.1 1.1 0 0 1 79.5 77.6" stroke="#909090" stroke-width="0.7" fill="none" stroke-linecap="round"/><path d="M25.3 87.1l0.7 -0.6M22.8 82.9l0.9 -1.1M25.4 78.4A1.4 1.4 0 0 1 26.9 80.7M29.9 74.5A1.1 1.1 0 0 1 31.2 73.6M21.8 86.1A1.0 1.0 0 0 1 23.3 85.7M28.9 83.3A0.7 0.7 0 0 1 29.9 84.1M32.2 85.0A1.3 1.3 0 0 1 34.1 85.4M28.4 75.8l-1.4 0.2M25.2 75.0A1.0 1.0 0 0 1 26.9 75.1M34.4 78.5l-0.6 -1.6M24.6 86.9A1.3 1.3 0 0 1 22.3 87.4M35.7 79.7l1.4 -0.2M36.5 85.7l1.2 1.4M24.8 80.5l1.5 -0.8M23.3 85.2A1.0 1.0 0 0 1 21.6 85.1M29.3 79.7l-1.8 0.1M35.1 78.1A1.1 1.1 0 0 1 33.2 77.2M33.0 78.1l-1.2 -0.6M33.3 79.0A1.3 1.3 0 0 1 31.8 77.9M22.3 85.6l1.4 1.1M36.1 87.5l-0.5 1.2M26.7 74.9A1.4 1.4 0 0 1 29.3 74.0M35.8 79.1l1.4 -0.7M23.5 86.1l-1.4 1.1M24.7 80.3A1.0 1.0 0 0 1 26.3 79.6" stroke="#888888" stroke-width="0.8" fill="none" stroke-linecap="round"/><path d="M35.6 77.0A1.4 1.4 0 0 1 33.1 77.2M28.9 76.9A1.1 1.1 0 0 1 30.4 78.1M26.9 86.2A1.4 1.4 0 0 1 25.0 85.9M33.1 88.5A1.4 1.4 0 0 1 33.8 85.9M33.4 80.7A1.1 1.1 0 0 1 35.1 81.0M32.5 84.2A0.9 0.9 0 0 1 31.2 85.4M25.9 81.7l-0.6 0.7M35.2 88.4l-0.4 -1.0M33.4 85.7A1.0 1.0 0 0 1 32.9 83.7M25.8 87.4l-2.0 0.2M22.8 86.6A1.1 1.1 0 0 1 21.3 85.2M30.9 72.2A0.9 0.9 0 0 1 30.2 73.9M26.4 83.1A1.0 1.0 0 0 1 27.8 82.1M28.2 79.6l1.2 1.5M33.5 75.9l1.5 0.4M28.5 82.1l-0.9 0.7M34.5 89.1A1.2 1.2 0 0 1 33.0 87.9M30.6 80.4l-1.0 -0.8M34.2 76.5A0.8 0.8 0 0 1 33.5 77.4M30.3 74.1A0.9 0.9 0 0 1 28.8 75.2M28.7 89.6A0.8 0.8 0 0 1 28.2 90.5M32.4 87.9l0.5 0.8M21.6 87.0A1.4 1.4 0 0 1 23.3 85.3M23.4 82.7A1.2 1.2 0 0 1 21.6 82.0M29.3 74.4A0.9 0.9 0 0 1 27.8 75.1M31.5 77.5A0.8 0.8 0 0 1 30.9 78.7M34.5 85.6A1.2 1.2 0 0 1 33.1 87.5M27.8 84.2A0.9 0.9 0 0 1 26.4 83.6M35.5 79.3A0.9 0.9 0 0 1 36.4 78.0M31.9 88.9l-1.6 -0.8" stroke="#727272" stroke-width="0.8" fill="none" stroke-linecap="round"/><path d="M27.3 84.0l-0.3 -1.3M24.7 88.6A1.3 1.3 0 0 1 24.0 90.6M35.2 79.5l1.8 0.5M22.6 81.8l0.5 -1.5M31.0 74.0l-0.6 -1.1M34.2 85.5A1.4 1.4 0 0 1 36.7 85.1M29.3 78.5l-0.5 -1.3M25.3 79.9A1.4 1.4 0 0 1 27.9 80.4M34.4 85.2A0.8 0.8 0 0 1 33.9 83.9M22.5 87.3l-1.2 0.7M35.0 90.1A1.1 1.1 0 0 1 33.5 88.4M24.9 82.5l0.7 -1.5M27.3 84.7l-1.7 -0.4M29.7 82.2A0.7 0.7 0 0 1 31.1 81.6M33.6 79.8A1.1 1.1 0 0 1 35.0 81.0M29.7 85.1A1.1 1.1 0 0 1 30.0 83.2M23.5 81.6A1.3 1.3 0 0 1 21.3 80.7M35.0 76.4A0.7 0.7 0 0 1 36.2 76.8M26.1 83.3A1.3 1.3 0 0 1 25.8 81.0M30.0 89.5A1.1 1.1 0 0 1 32.1 89.3M31.3 72.9A1.4 1.4 0 0 1 32.2 75.6M29.4 88.1A1.0 1.0 0 0 1 29.9 86.3M28.4 74.2A1.1 1.1 0 0 1 30.6 74.3M26.7 75.8A1.2 1.2 0 0 1 26.2 73.6M31.9 83.1l0.6 -0.9M32.4 76.3A1.0 1.0 0 0 1 30.7 76.1M35.7 87.4l-0.2 1.7M25.4 81.3l1.2 -0.1M31.7 76.2A0.9 0.9 0 0 1 31.3 77.9M25.3 77.1A1.1 1.1 0 0 1 27.4 77.0M31.1 87.2A1.2 1.2 0 0 1 31.5 85.2M27.6 76.9A1.1 1.1 0 0 1 26.6 78.5M23.5 80.3A0.8 0.8 0 0 1 24.3 81.5M31.6 87.0l1.1 -0.7M24.1 85.2A0.8 0.8 0 0 1 24.9 86.5" stroke="#5e5e5e" stroke-width="0.8" fill="none" stroke-linecap="round"/><path d="M66.6 90.4A1.3 1.3 0 0 1 67.8 88.2M50.2 91.0l-0.9 -0.3M27.3 84.4A1.4 1.4 0 0 1 28.2 86.7M32.2 89.4l0.2 -2.0M11.4 90.9A1.3 1.3 0 0 1 10.5 88.5M24.7 91.3l-1.2 -0.3M42.5 87.8l-0.0 -1.6M84.5 88.7A1.0 1.0 0 0 1 86.0 89.6M34.8 85.7A1.1 1.1 0 0 1 36.0 87.3M64.8 84.8l1.0 1.2M77.9 87.0A0.9 0.9 0 0 1 77.4 88.6M26.1 84.0A0.9 0.9 0 0 1 26.4 85.7M40.7 91.0l0.6 -0.7M18.3 84.6l-0.8 0.9M55.9 86.5A1.2 1.2 0 0 1 54.1 85.5M80.8 90.6l0.2 -1.3M14.5 89.5l-0.7 -1.7M64.4 83.2A1.4 1.4 0 0 1 66.1 81.0M47.4 87.2A0.9 0.9 0 0 1 45.9 87.1M81.8 90.4A0.7 0.7 0 0 1 80.4 90.1M16.3 89.0l0.9 -0.9M60.1 85.6A0.8 0.8 0 0 1 58.5 85.1M12.6 88.2l0.4 1.3M79.4 89.0l1.0 -0.4M77.9 87.4A1.1 1.1 0 0 1 79.4 86.2M86.0 87.6A1.1 1.1 0 0 1 88.2 87.8M96.7 89.1l1.2 0.5M23.2 86.4l0.6 -1.2M73.9 86.9A1.0 1.0 0 0 1 72.3 85.9M98.5 81.6A1.3 1.3 0 0 1 96.9 83.7M84.2 90.2A0.8 0.8 0 0 1 85.4 90.0M57.9 86.9A0.9 0.9 0 0 1 58.1 85.1M78.9 84.0l0.6 -1.2M75.6 82.2A0.9 0.9 0 0 1 73.9 83.0M59.9 82.9A1.2 1.2 0 0 1 61.6 82.7M18.3 87.2A0.8 0.8 0 0 1 17.7 88.6M25.1 87.4A1.2 1.2 0 0 1 25.9 89.7M19.2 87.3A0.7 0.7 0 0 1 20.4 86.7M56.1 86.0l-1.3 -0.1M26.4 88.0A1.5 1.5 0 0 1 27.7 85.4M100.7 92.0A0.9 0.9 0 0 1 99.2 92.0M64.9 86.3A0.9 0.9 0 0 1 66.0 87.5M60.7 87.8l0.4 1.0M75.4 89.8A1.4 1.4 0 0 1 74.3 91.6M43.0 90.5l0.2 -2.0M70.8 89.1A0.9 0.9 0 0 1 69.8 89.8M63.3 90.5l-1.4 -0.3M45.8 86.7l1.0 0.8M58.2 88.6l-0.9 1.5M29.2 90.4A1.3 1.3 0 0 1 27.6 88.3M91.4 90.7l1.9 0.3M14.9 87.9l-1.6 0.6M82.2 87.7A1.2 1.2 0 0 1 80.4 86.8M35.9 89.9A1.5 1.5 0 0 1 38.4 91.3M66.0 90.0l-1.7 0.6M53.2 90.3A1.4 1.4 0 0 1 55.7 91.5M51.8 85.7A1.2 1.2 0 0 1 52.8 84.1M33.2 86.5l0.8 1.1M68.4 82.6l-1.3 -0.2M85.3 86.3l-1.5 0.6M61.1 89.9l0.9 -0.7M102.3 86.9A1.4 1.4 0 0 1 99.9 87.1M88.9 91.7A1.4 1.4 0 0 1 86.8 91.3M82.4 92.5A1.1 1.1 0 0 1 80.8 91.3M17.2 91.7l1.1 0.3M73.2 87.1A1.3 1.3 0 0 1 70.5 87.2M61.7 91.5l0.7 1.2M82.2 88.2A0.8 0.8 0 0 1 83.2 87.4M41.7 85.7l-0.4 1.2M19.6 89.7l1.7 1.1M79.2 89.2l1.1 1.1M36.2 85.8A1.4 1.4 0 0 1 34.3 83.8M41.5 88.5A1.5 1.5 0 0 1 44.1 89.6M76.7 86.3A1.3 1.3 0 0 1 76.6 88.8M35.8 85.3l-1.5 -0.7M35.8 88.6l-1.7 0.6M63.7 85.2A1.2 1.2 0 0 1 65.8 85.6M60.8 91.6A1.0 1.0 0 0 1 59.9 89.8M32.5 87.2l1.8 0.1M36.6 86.4l-1.5 -1.2M58.8 84.6l0.6 1.5M28.9 84.2l-0.7 -0.8M14.9 91.7A1.0 1.0 0 0 1 16.2 90.2M92.0 82.9A1.4 1.4 0 0 1 94.4 83.7M33.2 88.7A1.2 1.2 0 0 1 32.3 86.6M78.4 84.3A0.8 0.8 0 0 1 77.9 85.5M48.0 90.3l-0.7 -1.7M84.5 87.4l-0.3 1.9M37.4 83.4A1.4 1.4 0 0 1 39.0 84.4M60.7 91.1A1.4 1.4 0 0 1 59.2 92.9M48.7 93.2A1.4 1.4 0 0 1 48.2 90.9M23.2 87.8A1.0 1.0 0 0 1 25.1 87.3M75.0 89.5l0.9 -0.5M75.2 86.3l0.2 1.3M22.1 88.8A0.9 0.9 0 0 1 22.7 90.1M48.9 86.1A1.3 1.3 0 0 1 51.3 85.0M70.5 87.8l-1.0 0.7M16.5 87.8A1.3 1.3 0 0 1 14.6 87.4M79.5 88.4A0.9 0.9 0 0 1 80.3 89.5M37.5 85.5A0.9 0.9 0 0 1 37.9 83.9M35.5 90.0l-1.5 0.2M11.9 89.8A1.2 1.2 0 0 1 10.2 90.5M53.9 90.7l0.6 -1.8M48.9 88.6l-1.2 -0.9M25.6 91.8l1.0 1.5M69.8 85.0A1.3 1.3 0 0 1 69.6 87.0M52.0 88.8A0.8 0.8 0 0 1 50.9 89.8M72.6 91.0l1.6 0.7M49.3 88.2A1.5 1.5 0 0 1 48.7 85.8M80.5 85.5l1.9 -0.5M55.0 87.5A1.2 1.2 0 0 1 56.1 85.4M20.1 88.8A1.0 1.0 0 0 1 18.5 88.5M94.2 90.0l1.0 -1.4M32.5 86.5A1.3 1.3 0 0 1 32.4 84.4M54.6 85.6A0.7 0.7 0 0 1 53.8 84.4M95.9 85.3A1.3 1.3 0 0 1 96.2 87.4M39.2 84.8A1.0 1.0 0 0 1 39.0 86.5M55.4 88.3A1.0 1.0 0 0 1 57.3 88.0M17.7 89.7A1.2 1.2 0 0 1 20.2 90.2M42.4 86.7l-1.0 -1.3M45.3 92.1A0.7 0.7 0 0 1 44.1 91.3M66.5 90.8l1.1 1.7M72.3 90.2l0.5 -1.4M79.8 86.8A0.9 0.9 0 0 1 80.9 85.6M68.0 88.2l-0.5 1.4M56.8 84.2l-1.1 -0.4M18.9 89.2l-1.1 1.0M76.7 88.1l1.0 -0.5M84.9 86.0l0.9 0.1M94.3 87.5A0.9 0.9 0 0 1 95.3 88.2M87.9 92.4A1.0 1.0 0 0 1 86.7 90.9M101.1 85.5A1.0 1.0 0 0 1 99.4 86.4M88.8 88.1A0.8 0.8 0 0 1 89.4 89.5M101.7 85.5l1.7 0.8M103.2 88.5A1.4 1.4 0 0 1 101.0 90.1M90.0 85.7A0.8 0.8 0 0 1 88.7 84.9M98.0 87.1l-1.1 1.4M92.8 87.5l-0.4 0.9M100.1 84.8A1.1 1.1 0 0 1 99.2 86.4M97.7 87.2l0.4 0.9M95.5 88.6l-1.1 0.2M92.1 79.8A1.1 1.1 0 0 1 93.9 80.8M93.0 89.4l2.0 0.1M97.0 85.6A1.0 1.0 0 0 1 98.4 84.3M93.4 87.4A1.4 1.4 0 0 1 95.3 88.1M92.2 90.9l-0.7 -1.7M97.4 84.2l1.8 -0.1M92.8 86.2l-1.0 1.7M95.6 87.7A0.9 0.9 0 0 1 94.9 88.8M86.9 89.2A1.5 1.5 0 0 1 88.5 91.0M95.4 82.9l-0.7 -1.3M100.2 83.7A0.7 0.7 0 0 1 101.5 83.9M95.3 84.0A1.3 1.3 0 0 1 95.4 81.4M95.9 85.0A1.2 1.2 0 0 1 97.2 83.7M91.9 83.9A1.2 1.2 0 0 1 90.3 84.2M98.1 85.9A1.1 1.1 0 0 1 99.0 84.2M86.9 91.4A1.2 1.2 0 0 1 85.5 90.2M98.5 84.8A1.0 1.0 0 0 1 97.0 86.1M97.2 82.2A0.7 0.7 0 0 1 97.2 80.7M91.6 82.5A1.3 1.3 0 0 1 90.8 80.5M91.0 83.3l0.7 -1.0M99.1 85.5A1.5 1.5 0 0 1 98.0 87.7M86.3 91.5l0.6 -1.7M93.8 92.1A0.8 0.8 0 0 1 94.0 91.0M90.8 88.0l-1.0 0.8M88.4 88.4A1.2 1.2 0 0 1 89.5 86.5M93.7 80.8A0.8 0.8 0 0 1 92.3 80.3M103.1 85.7A1.4 1.4 0 0 1 103.1 88.1M101.9 88.2A0.8 0.8 0 0 1 100.9 89.5" stroke="#6a6a6a" stroke-width="0.8" fill="none" stroke-linecap="round"/><path d="M93.0 93.2A1.5 1.5 0 0 1 90.9 92.3M12.7 87.1A1.0 1.0 0 0 1 13.4 88.8M48.1 89.8A0.8 0.8 0 0 1 46.6 90.6M55.4 86.3A1.1 1.1 0 0 1 53.4 86.0M50.4 86.3l1.6 -0.1M50.2 86.2l0.9 1.0M22.5 89.6l-0.7 -0.8M84.3 90.7l-0.1 1.8M55.2 85.5A1.3 1.3 0 0 1 53.8 87.0M61.6 91.2l0.5 1.4M70.1 81.6A1.0 1.0 0 0 1 69.4 83.2M87.4 89.8l-0.5 -1.9M68.0 86.4A0.7 0.7 0 0 1 66.7 85.9M96.9 84.9A0.9 0.9 0 0 1 98.4 84.4M24.6 88.1A0.9 0.9 0 0 1 24.6 86.3M81.2 82.8l0.6 0.9M33.1 86.3l0.5 -0.9M77.7 86.7l-0.3 1.8M65.5 89.1l0.0 -1.5M61.6 86.8A0.9 0.9 0 0 1 62.7 87.7M72.0 84.7A0.9 0.9 0 0 1 73.8 84.8M80.9 92.5A1.4 1.4 0 0 1 82.5 90.2M87.7 85.8A1.3 1.3 0 0 1 89.4 87.5M65.8 86.7A1.2 1.2 0 0 1 65.1 88.8M29.3 86.3A1.1 1.1 0 0 1 28.7 84.2M47.8 88.3l0.5 0.9M10.4 93.0A1.1 1.1 0 0 1 9.0 91.5M38.7 86.1l1.4 -0.5M45.0 89.3A1.3 1.3 0 0 1 42.5 89.6M69.4 86.2A1.5 1.5 0 0 1 67.7 84.5M8.9 91.1A1.3 1.3 0 0 1 7.0 91.4M81.0 89.9l0.7 -1.8M39.8 89.4l-0.3 1.5M18.4 87.2A0.7 0.7 0 0 1 19.5 87.0M77.2 89.1A1.3 1.3 0 0 1 75.5 87.3M87.8 89.2l-1.0 -1.0M39.1 89.2l1.0 -0.7M70.0 87.6l0.1 -1.5M63.8 86.6A0.9 0.9 0 0 1 62.4 86.6M50.5 84.9l1.4 0.8M27.8 86.4A0.8 0.8 0 0 1 26.8 87.8M83.0 86.7A1.2 1.2 0 0 1 80.7 87.0M41.3 91.0A0.9 0.9 0 0 1 40.6 92.1M99.9 84.1A1.4 1.4 0 0 1 99.3 86.3M71.2 85.7A0.8 0.8 0 0 1 71.3 87.0M37.7 89.6A0.9 0.9 0 0 1 36.8 90.8M77.5 91.7l0.2 -1.3M36.9 85.4l-1.1 -0.4M19.1 91.0A1.1 1.1 0 0 1 17.4 92.4M42.5 89.1l-0.2 -2.0M83.5 91.3A1.2 1.2 0 0 1 81.5 91.1M21.4 84.4A1.2 1.2 0 0 1 19.1 84.4M50.2 90.6l-0.8 0.5M63.8 88.9l0.9 -0.6M44.6 90.0A1.0 1.0 0 0 1 44.6 91.7M10.3 90.9A1.1 1.1 0 0 1 10.9 92.3M55.3 87.6A0.9 0.9 0 0 1 56.8 88.4M55.5 85.6l-1.4 -1.4M87.7 84.3A1.3 1.3 0 0 1 87.8 81.8M71.6 90.0l0.3 1.1M92.7 84.6l1.9 0.2M54.0 86.7l1.4 0.5M64.1 84.7A1.2 1.2 0 0 1 65.2 86.4M47.8 91.4l0.3 -1.5M15.7 90.0A1.4 1.4 0 0 1 13.4 88.4M57.5 85.1A0.7 0.7 0 0 1 56.5 84.2M57.1 87.3l0.5 -1.7M74.6 84.3A1.1 1.1 0 0 1 73.8 82.9M33.5 91.4A0.8 0.8 0 0 1 32.9 90.1M12.4 86.9A1.3 1.3 0 0 1 14.1 87.8M72.4 91.3l-1.9 -0.3M20.0 88.7A1.2 1.2 0 0 1 18.5 90.5M93.3 89.6l-0.5 1.8M59.7 92.0A0.8 0.8 0 0 1 59.6 90.5M78.1 86.2l1.3 -0.5M82.2 87.8l1.6 0.9M56.7 91.5l-0.1 -1.8M52.8 86.0A1.0 1.0 0 0 1 54.3 87.2M74.3 87.4A1.1 1.1 0 0 1 74.8 85.9M11.4 91.8l0.9 1.5M26.8 88.0A0.8 0.8 0 0 1 26.3 86.7M22.2 89.2l0.8 1.0M9.1 90.2l-0.1 1.0M76.2 88.8A1.0 1.0 0 0 1 77.5 87.3M86.2 88.1A1.4 1.4 0 0 1 86.5 85.4M49.0 89.0A0.8 0.8 0 0 1 50.1 90.3M90.2 87.5A0.8 0.8 0 0 1 89.9 86.5M62.3 86.4A1.3 1.3 0 0 1 62.7 84.6M13.4 91.4l-1.0 -0.1M82.4 91.7A1.0 1.0 0 0 1 80.5 92.2M58.4 86.9A0.9 0.9 0 0 1 59.6 85.9M81.9 91.6l-1.5 -0.4M26.2 87.4A0.9 0.9 0 0 1 26.3 88.7M54.9 86.5A1.1 1.1 0 0 1 55.1 84.5M46.6 88.5A1.5 1.5 0 0 1 46.1 91.4M52.8 86.1A1.3 1.3 0 0 1 53.9 83.8M58.9 85.3A1.1 1.1 0 0 1 58.5 86.7M32.9 87.9l-1.6 -0.9M32.4 87.9A1.4 1.4 0 0 1 31.6 89.7M20.0 80.9A1.4 1.4 0 0 1 19.6 83.7M32.4 85.2A1.2 1.2 0 0 1 33.6 87.2M65.5 88.7l-0.8 -0.7M49.4 86.0A1.0 1.0 0 0 1 47.4 86.4M34.4 91.7A1.0 1.0 0 0 1 32.9 91.6M76.8 90.8A1.1 1.1 0 0 1 78.1 89.1M50.7 89.4A0.7 0.7 0 0 1 49.3 89.7M90.9 91.3A1.4 1.4 0 0 1 93.7 90.4M81.9 86.4l0.9 -0.5M86.2 88.2l-0.9 0.6M25.1 86.8A1.2 1.2 0 0 1 23.8 85.0M63.4 90.1l-1.3 0.2M46.0 91.9A1.4 1.4 0 0 1 44.1 93.0M32.2 86.0l0.9 1.2M35.8 91.8A1.5 1.5 0 0 1 33.6 92.3M29.9 91.3A1.3 1.3 0 0 1 27.9 91.3M40.9 84.9A1.4 1.4 0 0 1 43.5 85.2M25.3 88.4l1.4 1.4M63.5 89.6A0.9 0.9 0 0 1 64.8 88.4M48.1 85.2l-0.9 0.8M10.6 90.7A1.3 1.3 0 0 1 12.3 92.1M16.6 87.7l-0.1 0.9M43.2 90.7A1.1 1.1 0 0 1 45.4 90.0M96.5 83.4A1.4 1.4 0 0 1 96.6 86.0M62.9 90.1A0.7 0.7 0 0 1 61.6 90.7M31.3 86.2A0.8 0.8 0 0 1 32.6 85.4" stroke="#909090" stroke-width="0.8" fill="none" stroke-linecap="round"/><path d="M47.6 85.3A1.2 1.2 0 0 1 49.8 84.2M62.0 84.5l-0.5 1.3M19.9 89.5A1.1 1.1 0 0 1 18.2 90.3M93.9 91.1A0.8 0.8 0 0 1 94.9 92.4M10.3 91.2A1.4 1.4 0 0 1 11.0 88.5M27.0 86.6A1.1 1.1 0 0 1 26.6 88.7M34.7 90.4l0.4 1.2M10.5 82.5l0.8 1.1M23.2 90.2l0.6 -1.4M72.4 88.5A0.9 0.9 0 0 1 73.3 86.8M83.0 89.5l-0.8 1.6M74.3 90.6A1.3 1.3 0 0 1 72.4 88.8M30.4 89.7A1.4 1.4 0 0 1 32.5 90.3M25.7 92.0A0.9 0.9 0 0 1 26.5 90.3M39.6 87.5l-1.7 -0.9M99.3 92.0l-1.4 1.1M43.4 85.7l-1.4 1.2M58.2 88.8A0.8 0.8 0 0 1 59.5 89.3M54.8 86.5A0.8 0.8 0 0 1 54.0 87.8M32.9 88.9l0.5 -0.8M42.1 85.2A1.0 1.0 0 0 1 40.4 86.0M60.8 86.9l0.9 0.7M56.2 91.4l-0.9 -0.9M17.5 87.9l0.4 1.7M90.4 84.3A1.1 1.1 0 0 1 90.9 85.9M47.8 87.9A0.9 0.9 0 0 1 49.2 88.6M30.3 84.5A1.4 1.4 0 0 1 31.4 86.9M101.1 84.5A1.4 1.4 0 0 1 98.8 86.2M75.7 84.0A1.5 1.5 0 0 1 78.2 85.4M32.9 88.2A1.4 1.4 0 0 1 31.3 87.0M77.1 90.2l0.6 1.9M49.8 92.2A1.4 1.4 0 0 1 47.3 92.2M86.2 87.9A1.0 1.0 0 0 1 87.2 88.9M56.6 87.2A0.9 0.9 0 0 1 55.9 85.7M83.1 86.4l-0.4 1.6M45.3 83.5A0.8 0.8 0 0 1 43.7 83.3M92.3 90.6l-0.5 0.8M69.7 91.3l-1.6 -0.5M12.5 89.1A1.2 1.2 0 0 1 14.0 90.3M84.3 89.2A1.5 1.5 0 0 1 83.8 86.8M22.5 88.7l0.9 1.2M70.4 89.6l-0.1 1.4M79.2 86.7A0.9 0.9 0 0 1 78.0 85.8M31.6 86.9A1.0 1.0 0 0 1 29.8 86.9M60.7 83.9A1.3 1.3 0 0 1 62.8 85.1M32.7 86.2l-1.0 1.0M55.7 88.7l-0.4 1.4M42.4 87.5A1.0 1.0 0 0 1 41.5 86.2M76.0 87.5l0.1 1.8M65.4 90.1A1.2 1.2 0 0 1 65.3 92.4M22.5 87.4l0.7 1.1M74.4 91.8A1.1 1.1 0 0 1 74.2 90.2M69.1 83.5A0.7 0.7 0 0 1 67.6 83.5M87.8 90.6A0.8 0.8 0 0 1 86.7 89.9M39.9 91.4A1.0 1.0 0 0 1 39.4 89.8M76.1 92.1A0.8 0.8 0 0 1 75.4 90.7M12.1 87.7A0.8 0.8 0 0 1 13.4 88.2M34.1 88.1A0.9 0.9 0 0 1 35.8 88.4M60.8 90.7A0.7 0.7 0 0 1 60.8 91.8M92.6 89.2A1.4 1.4 0 0 1 92.8 91.9M35.0 86.2A1.4 1.4 0 0 1 32.9 87.6M44.2 86.5l1.2 0.0M18.3 87.5l1.4 1.1M42.3 86.6A0.8 0.8 0 0 1 43.7 86.3M39.3 90.8A0.9 0.9 0 0 1 39.0 89.1M42.8 82.0A1.1 1.1 0 0 1 44.5 81.8M29.2 87.2A1.3 1.3 0 0 1 31.4 85.6M32.4 91.9l0.3 -1.0M97.6 89.4A0.9 0.9 0 0 1 96.6 90.5M99.2 90.0l-1.2 -0.3M44.0 91.8A0.8 0.8 0 0 1 44.3 90.5M82.1 88.6l1.1 0.9M61.8 84.8A1.0 1.0 0 0 1 59.9 85.2M95.4 85.2A1.5 1.5 0 0 1 97.2 87.2M56.8 89.0A1.2 1.2 0 0 1 58.8 89.3M24.0 91.8A1.4 1.4 0 0 1 21.4 92.5M71.2 87.8l-1.0 -1.2M66.4 88.6A0.9 0.9 0 0 1 67.6 87.9M81.8 86.4l-0.9 -0.4M36.3 90.9l1.5 0.9M10.2 91.8l0.7 0.9M25.3 85.4A1.0 1.0 0 0 1 27.2 85.9M77.9 89.1A0.7 0.7 0 0 1 79.3 89.4M98.3 88.8l1.2 -1.4M94.1 90.5A0.9 0.9 0 0 1 95.6 91.0M41.9 85.7A0.8 0.8 0 0 1 42.8 87.0M47.8 85.4A1.2 1.2 0 0 1 48.2 87.4M60.3 84.6A0.8 0.8 0 0 1 61.8 85.1M70.2 84.3A0.8 0.8 0 0 1 70.6 85.8M51.2 89.0A1.0 1.0 0 0 1 52.0 87.3M45.4 88.6l1.0 -0.6M19.6 91.8l-0.3 -1.9M51.6 87.8l-0.0 -1.8M83.4 91.9A0.7 0.7 0 0 1 82.0 92.0M17.4 83.1A1.4 1.4 0 0 1 19.7 83.7M95.5 88.2A0.8 0.8 0 0 1 95.1 89.7M69.7 86.5A1.1 1.1 0 0 1 71.3 86.7M73.2 84.1A1.2 1.2 0 0 1 73.9 86.1M73.2 86.7A1.2 1.2 0 0 1 74.0 88.7M51.1 82.4l1.1 -1.1M28.5 91.8l1.4 -0.2M28.6 87.8A1.0 1.0 0 0 1 26.6 87.6M94.3 91.0l-0.4 1.6M72.1 87.7l1.5 -0.1M74.6 89.4A1.0 1.0 0 0 1 75.0 91.3M87.5 86.3l-0.4 -0.9M11.4 89.6A0.7 0.7 0 0 1 12.2 90.3M62.9 84.6A0.9 0.9 0 0 1 63.1 85.8M21.6 90.5l1.4 -0.4M68.1 83.6l-0.9 -1.0M22.7 91.0l-0.9 -0.4M18.3 82.0A1.4 1.4 0 0 1 16.7 84.2M25.2 88.7A0.8 0.8 0 0 1 25.8 87.2M60.4 89.7A1.1 1.1 0 0 1 61.7 88.4M22.2 89.4A0.9 0.9 0 0 1 23.0 88.4M30.0 83.5A0.7 0.7 0 0 1 29.2 84.1M91.1 88.5A1.4 1.4 0 0 1 89.9 90.5M91.5 87.1l-0.8 -0.4M24.1 87.4l-0.2 1.5M102.4 90.4A1.4 1.4 0 0 1 99.7 89.8" stroke="#7e7e7e" stroke-width="0.8" fill="none" stroke-linecap="round"/><path d="M101.5 91.5l-0.1 -2.0M95.4 91.4l-0.8 0.7M92.5 90.3A0.8 0.8 0 0 1 90.9 90.6M89.0 87.8l-0.1 -1.2M91.2 84.0l0.8 -0.7M103.1 88.9A0.9 0.9 0 0 1 102.1 89.9M94.5 83.2A0.9 0.9 0 0 1 93.5 81.8M93.7 89.2A1.0 1.0 0 0 1 94.1 91.2M92.2 82.0A0.9 0.9 0 0 1 93.4 80.9M94.0 81.4A1.1 1.1 0 0 1 91.8 81.7M97.3 85.9l-1.0 -1.1M95.1 81.5l0.7 -1.5M103.7 84.0A1.4 1.4 0 0 1 102.6 86.2M99.0 84.1A1.5 1.5 0 0 1 101.2 82.6M99.3 90.4A1.2 1.2 0 0 1 99.0 92.3M90.8 86.3A1.2 1.2 0 0 1 92.8 86.9M88.9 91.5l-0.2 1.8M97.2 81.1A1.4 1.4 0 0 1 95.3 81.6M98.2 89.9A0.9 0.9 0 0 1 99.5 91.0M101.0 82.1A0.8 0.8 0 0 1 101.3 83.4M103.6 88.4A1.4 1.4 0 0 1 101.1 88.9M96.7 82.8A1.4 1.4 0 0 1 96.5 85.4M99.0 81.8A0.8 0.8 0 0 1 99.6 83.2M100.9 85.0l0.3 -1.2M96.0 85.6A1.4 1.4 0 0 1 93.6 86.1M96.7 90.3A1.4 1.4 0 0 1 98.7 88.4M91.4 85.2l-0.5 -1.4M100.3 88.9l0.9 -0.5M102.2 85.8l0.9 0.0M102.4 84.5A1.0 1.0 0 0 1 100.7 83.7M100.7 88.0l0.8 -0.7M100.9 91.9l-0.7 0.9M94.8 90.6l-1.5 0.2M86.6 90.7A1.1 1.1 0 0 1 86.8 89.0M100.4 89.1l1.3 1.1M94.2 82.2A1.5 1.5 0 0 1 96.9 82.4M96.7 89.1A1.1 1.1 0 0 1 96.6 86.9M98.5 87.9l-0.9 -1.5M98.8 90.0l-0.2 1.1M90.9 90.0A1.1 1.1 0 0 1 89.0 90.9M87.8 90.3A1.1 1.1 0 0 1 85.7 89.9M99.7 83.2A1.1 1.1 0 0 1 100.9 81.8M94.2 84.9A1.2 1.2 0 0 1 92.6 84.5M95.3 81.1A0.7 0.7 0 0 1 96.2 80.3M91.7 83.1A0.9 0.9 0 0 1 92.3 84.4M90.1 90.7A0.9 0.9 0 0 1 91.8 90.5M93.3 86.5A1.4 1.4 0 0 1 91.1 86.2M91.4 91.6l0.9 -1.3M88.6 91.2l-1.5 0.0M99.7 85.6A1.3 1.3 0 0 1 101.5 86.9M102.0 89.4l1.6 1.0M93.6 88.5A1.2 1.2 0 0 1 93.5 86.5M100.3 84.6A1.4 1.4 0 0 1 97.8 83.6M96.2 90.3A0.8 0.8 0 0 1 95.7 91.7M95.6 86.8A1.2 1.2 0 0 1 95.8 85.1M94.7 81.3A1.3 1.3 0 0 1 92.2 82.2M99.7 92.6A1.0 1.0 0 0 1 100.4 90.8" stroke="#808080" stroke-width="0.8" fill="none" stroke-linecap="round"/><path d="M29.5 17.0a0.7 0.7 0 1 0 1.4 0a0.7 0.7 0 1 0 -1.4 0M5.9 36.3a0.8 0.8 0 1 0 1.5 0a0.8 0.8 0 1 0 -1.5 0M53.1 36.7a1.1 1.1 0 1 0 2.1 0a1.1 1.1 0 1 0 -2.1 0M55.9 8.1a0.6 0.6 0 1 0 1.2 0a0.6 0.6 0 1 0 -1.2 0M5.1 11.7a1.0 1.0 0 1 0 1.9 0a1.0 1.0 0 1 0 -1.9 0M85.8 12.1a0.7 0.7 0 1 0 1.5 0a0.7 0.7 0 1 0 -1.5 0M61.7 35.3a0.7 0.7 0 1 0 1.5 0a0.7 0.7 0 1 0 -1.5 0M90.7 19.7a1.1 1.1 0 1 0 2.2 0a1.1 1.1 0 1 0 -2.2 0M31.1 21.5a0.8 0.8 0 1 0 1.5 0a0.8 0.8 0 1 0 -1.5 0M50.8 27.7a1.0 1.0 0 1 0 1.9 0a1.0 1.0 0 1 0 -1.9 0M81.4 36.5a0.5 0.5 0 1 0 1.1 0a0.5 0.5 0 1 0 -1.1 0M47.5 20.7a0.8 0.8 0 1 0 1.6 0a0.8 0.8 0 1 0 -1.6 0M90.5 13.7a1.1 1.1 0 1 0 2.1 0a1.1 1.1 0 1 0 -2.1 0M69.4 45.6a1.0 1.0 0 1 0 1.9 0a1.0 1.0 0 1 0 -1.9 0M27.0 39.2a0.7 0.7 0 1 0 1.4 0a0.7 0.7 0 1 0 -1.4 0M97.8 10.7a0.6 0.6 0 1 0 1.1 0a0.6 0.6 0 1 0 -1.1 0M13.7 26.3a0.9 0.9 0 1 0 1.7 0a0.9 0.9 0 1 0 -1.7 0M47.5 7.3a0.6 0.6 0 1 0 1.2 0a0.6 0.6 0 1 0 -1.2 0M6.3 37.0a0.7 0.7 0 1 0 1.3 0a0.7 0.7 0 1 0 -1.3 0M56.4 22.4a1.0 1.0 0 1 0 2.0 0a1.0 1.0 0 1 0 -2.0 0M48.6 16.0a1.0 1.0 0 1 0 2.0 0a1.0 1.0 0 1 0 -2.0 0M50.7 37.0a1.1 1.1 0 1 0 2.1 0a1.1 1.1 0 1 0 -2.1 0M10.5 22.6a0.7 0.7 0 1 0 1.4 0a0.7 0.7 0 1 0 -1.4 0M32.1 6.2a0.7 0.7 0 1 0 1.4 0a0.7 0.7 0 1 0 -1.4 0M22.2 7.1a0.9 0.9 0 1 0 1.7 0a0.9 0.9 0 1 0 -1.7 0M47.5 23.9a1.0 1.0 0 1 0 1.9 0a1.0 1.0 0 1 0 -1.9 0M72.6 50.0a0.7 0.7 0 1 0 1.4 0a0.7 0.7 0 1 0 -1.4 0M57.9 20.2a0.9 0.9 0 1 0 1.9 0a0.9 0.9 0 1 0 -1.9 0M83.9 14.6a0.9 0.9 0 1 0 1.7 0a0.9 0.9 0 1 0 -1.7 0M17.8 10.1a0.9 0.9 0 1 0 1.8 0a0.9 0.9 0 1 0 -1.8 0M49.7 11.4a0.7 0.7 0 1 0 1.4 0a0.7 0.7 0 1 0 -1.4 0M98.8 20.8a0.7 0.7 0 1 0 1.3 0a0.7 0.7 0 1 0 -1.3 0M94.1 29.7a0.8 0.8 0 1 0 1.6 0a0.8 0.8 0 1 0 -1.6 0M6.1 39.8a0.6 0.6 0 1 0 1.1 0a0.6 0.6 0 1 0 -1.1 0M58.9 25.8a1.0 1.0 0 1 0 1.9 0a1.0 1.0 0 1 0 -1.9 0M73.5 39.1a1.0 1.0 0 1 0 2.0 0a1.0 1.0 0 1 0 -2.0 0M47.3 20.7a0.5 0.5 0 1 0 1.1 0a0.5 0.5 0 1 0 -1.1 0M6.0 19.2a1.1 1.1 0 1 0 2.2 0a1.1 1.1 0 1 0 -2.2 0M73.2 14.7a0.7 0.7 0 1 0 1.3 0a0.7 0.7 0 1 0 -1.3 0M82.1 41.8a0.7 0.7 0 1 0 1.3 0a0.7 0.7 0 1 0 -1.3 0M53.3 41.7a0.9 0.9 0 1 0 1.8 0a0.9 0.9 0 1 0 -1.8 0M84.0 26.1a1.1 1.1 0 1 0 2.1 0a1.1 1.1 0 1 0 -2.1 0M64.9 35.0a1.1 1.1 0 1 0 2.2 0a1.1 1.1 0 1 0 -2.2 0M61.2 32.0a0.5 0.5 0 1 0 1.1 0a0.5 0.5 0 1 0 -1.1 0M53.9 24.8a0.6 0.6 0 1 0 1.2 0a0.6 0.6 0 1 0 -1.2 0M19.3 25.0a0.8 0.8 0 1 0 1.6 0a0.8 0.8 0 1 0 -1.6 0M67.3 11.5a0.6 0.6 0 1 0 1.3 0a0.6 0.6 0 1 0 -1.3 0M39.9 7.8a0.9 0.9 0 1 0 1.7 0a0.9 0.9 0 1 0 -1.7 0M64.6 16.2a1.0 1.0 0 1 0 2.1 0a1.0 1.0 0 1 0 -2.1 0M61.0 48.1a0.6 0.6 0 1 0 1.2 0a0.6 0.6 0 1 0 -1.2 0M9.3 11.0a0.5 0.5 0 1 0 1.0 0a0.5 0.5 0 1 0 -1.0 0M55.7 31.8a1.0 1.0 0 1 0 2.0 0a1.0 1.0 0 1 0 -2.0 0M66.1 31.1a0.5 0.5 0 1 0 1.0 0a0.5 0.5 0 1 0 -1.0 0M92.0 28.8a0.5 0.5 0 1 0 1.0 0a0.5 0.5 0 1 0 -1.0 0M62.7 52.9a0.5 0.5 0 1 0 1.1 0a0.5 0.5 0 1 0 -1.1 0M69.4 34.7a0.5 0.5 0 1 0 1.0 0a0.5 0.5 0 1 0 -1.0 0M28.2 10.3a0.8 0.8 0 1 0 1.6 0a0.8 0.8 0 1 0 -1.6 0M49.5 20.4a0.9 0.9 0 1 0 1.8 0a0.9 0.9 0 1 0 -1.8 0M41.2 16.7a0.8 0.8 0 1 0 1.6 0a0.8 0.8 0 1 0 -1.6 0M41.8 12.7a1.0 1.0 0 1 0 1.9 0a1.0 1.0 0 1 0 -1.9 0M30.0 25.5a1.0 1.0 0 1 0 1.9 0a1.0 1.0 0 1 0 -1.9 0M39.9 11.8a0.8 0.8 0 1 0 1.5 0a0.8 0.8 0 1 0 -1.5 0M15.0 33.6a0.5 0.5 0 1 0 1.0 0a0.5 0.5 0 1 0 -1.0 0M60.1 28.3a1.0 1.0 0 1 0 2.1 0a1.0 1.0 0 1 0 -2.1 0M15.1 18.1a0.7 0.7 0 1 0 1.3 0a0.7 0.7 0 1 0 -1.3 0M77.3 24.8a0.5 0.5 0 1 0 1.0 0a0.5 0.5 0 1 0 -1.0 0M35.6 7.0a0.6 0.6 0 1 0 1.1 0a0.6 0.6 0 1 0 -1.1 0M36.3 36.2a0.8 0.8 0 1 0 1.6 0a0.8 0.8 0 1 0 -1.6 0M21.2 11.5a0.6 0.6 0 1 0 1.3 0a0.6 0.6 0 1 0 -1.3 0M38.1 19.5a0.6 0.6 0 1 0 1.3 0a0.6 0.6 0 1 0 -1.3 0M22.8 36.6a0.7 0.7 0 1 0 1.4 0a0.7 0.7 0 1 0 -1.4 0M65.0 13.7a0.7 0.7 0 1 0 1.4 0a0.7 0.7 0 1 0 -1.4 0M30.1 20.3a0.6 0.6 0 1 0 1.2 0a0.6 0.6 0 1 0 -1.2 0M58.4 18.8a0.9 0.9 0 1 0 1.8 0a0.9 0.9 0 1 0 -1.8 0M41.7 36.4a0.8 0.8 0 1 0 1.6 0a0.8 0.8 0 1 0 -1.6 0M93.6 17.4a1.0 1.0 0 1 0 2.0 0a1.0 1.0 0 1 0 -2.0 0M21.5 33.9a0.9 0.9 0 1 0 1.8 0a0.9 0.9 0 1 0 -1.8 0M5.3 20.6a0.7 0.7 0 1 0 1.5 0a0.7 0.7 0 1 0 -1.5 0M14.4 26.8a0.6 0.6 0 1 0 1.2 0a0.6 0.6 0 1 0 -1.2 0M72.4 41.5a1.0 1.0 0 1 0 1.9 0a1.0 1.0 0 1 0 -1.9 0M54.5 36.7a1.0 1.0 0 1 0 2.1 0a1.0 1.0 0 1 0 -2.1 0M31.4 26.4a1.0 1.0 0 1 0 2.1 0a1.0 1.0 0 1 0 -2.1 0M12.0 28.0a0.9 0.9 0 1 0 1.9 0a0.9 0.9 0 1 0 -1.9 0M46.3 21.7a0.6 0.6 0 1 0 1.3 0a0.6 0.6 0 1 0 -1.3 0M76.4 6.5a1.0 1.0 0 1 0 1.9 0a1.0 1.0 0 1 0 -1.9 0M30.7 30.0a1.0 1.0 0 1 0 2.0 0a1.0 1.0 0 1 0 -2.0 0M20.0 11.6a1.0 1.0 0 1 0 2.0 0a1.0 1.0 0 1 0 -2.0 0M58.4 19.4a0.7 0.7 0 1 0 1.5 0a0.7 0.7 0 1 0 -1.5 0M77.8 27.6a0.9 0.9 0 1 0 1.9 0a0.9 0.9 0 1 0 -1.9 0M82.1 18.9a0.6 0.6 0 1 0 1.2 0a0.6 0.6 0 1 0 -1.2 0M53.8 7.1a0.9 0.9 0 1 0 1.9 0a0.9 0.9 0 1 0 -1.9 0M36.7 26.4a1.0 1.0 0 1 0 2.1 0a1.0 1.0 0 1 0 -2.1 0M25.4 10.5a1.0 1.0 0 1 0 2.1 0a1.0 1.0 0 1 0 -2.1 0M59.6 6.8a1.0 1.0 0 1 0 1.9 0a1.0 1.0 0 1 0 -1.9 0M29.1 23.1a1.0 1.0 0 1 0 2.1 0a1.0 1.0 0 1 0 -2.1 0M11.4 22.5a1.1 1.1 0 1 0 2.1 0a1.1 1.1 0 1 0 -2.1 0M50.9 35.1a0.5 0.5 0 1 0 1.0 0a0.5 0.5 0 1 0 -1.0 0M87.9 10.0a0.6 0.6 0 1 0 1.2 0a0.6 0.6 0 1 0 -1.2 0M90.2 23.7a0.7 0.7 0 1 0 1.5 0a0.7 0.7 0 1 0 -1.5 0M64.3 34.9a0.6 0.6 0 1 0 1.2 0a0.6 0.6 0 1 0 -1.2 0M44.9 10.0a1.1 1.1 0 1 0 2.2 0a1.1 1.1 0 1 0 -2.2 0M53.8 30.2a0.7 0.7 0 1 0 1.5 0a0.7 0.7 0 1 0 -1.5 0M88.5 27.2a0.6 0.6 0 1 0 1.2 0a0.6 0.6 0 1 0 -1.2 0M41.8 8.5a0.7 0.7 0 1 0 1.4 0a0.7 0.7 0 1 0 -1.4 0M5.2 21.2a1.0 1.0 0 1 0 2.0 0a1.0 1.0 0 1 0 -2.0 0M19.4 33.4a0.8 0.8 0 1 0 1.6 0a0.8 0.8 0 1 0 -1.6 0M95.5 36.2a1.1 1.1 0 1 0 2.1 0a1.1 1.1 0 1 0 -2.1 0M31.9 22.5a1.1 1.1 0 1 0 2.2 0a1.1 1.1 0 1 0 -2.2 0M9.7 19.8a0.9 0.9 0 1 0 1.8 0a0.9 0.9 0 1 0 -1.8 0M21.2 32.0a0.6 0.6 0 1 0 1.3 0a0.6 0.6 0 1 0 -1.3 0M14.8 40.4a0.6 0.6 0 1 0 1.2 0a0.6 0.6 0 1 0 -1.2 0M37.8 27.3a0.9 0.9 0 1 0 1.9 0a0.9 0.9 0 1 0 -1.9 0M42.3 8.6a0.7 0.7 0 1 0 1.5 0a0.7 0.7 0 1 0 -1.5 0M69.9 36.5a0.5 0.5 0 1 0 1.0 0a0.5 0.5 0 1 0 -1.0 0M20.1 23.1a1.0 1.0 0 1 0 1.9 0a1.0 1.0 0 1 0 -1.9 0M86.1 19.4a0.5 0.5 0 1 0 1.1 0a0.5 0.5 0 1 0 -1.1 0M76.7 11.8a0.7 0.7 0 1 0 1.4 0a0.7 0.7 0 1 0 -1.4 0M44.5 30.5a0.7 0.7 0 1 0 1.4 0a0.7 0.7 0 1 0 -1.4 0M7.5 25.1a0.8 0.8 0 1 0 1.7 0a0.8 0.8 0 1 0 -1.7 0M82.2 26.2a0.6 0.6 0 1 0 1.2 0a0.6 0.6 0 1 0 -1.2 0M23.8 28.5a0.7 0.7 0 1 0 1.4 0a0.7 0.7 0 1 0 -1.4 0M54.3 9.4a0.5 0.5 0 1 0 1.0 0a0.5 0.5 0 1 0 -1.0 0M24.4 9.5a0.6 0.6 0 1 0 1.1 0a0.6 0.6 0 1 0 -1.1 0M99.5 17.7a0.6 0.6 0 1 0 1.3 0a0.6 0.6 0 1 0 -1.3 0M41.6 14.3a0.9 0.9 0 1 0 1.9 0a0.9 0.9 0 1 0 -1.9 0M50.1 37.4a0.8 0.8 0 1 0 1.5 0a0.8 0.8 0 1 0 -1.5 0M24.6 11.5a0.6 0.6 0 1 0 1.2 0a0.6 0.6 0 1 0 -1.2 0M41.6 30.1a0.5 0.5 0 1 0 1.0 0a0.5 0.5 0 1 0 -1.0 0M44.3 16.5a0.9 0.9 0 1 0 1.8 0a0.9 0.9 0 1 0 -1.8 0M95.4 27.3a0.5 0.5 0 1 0 1.1 0a0.5 0.5 0 1 0 -1.1 0M59.4 35.9a0.7 0.7 0 1 0 1.5 0a0.7 0.7 0 1 0 -1.5 0M58.6 49.1a0.6 0.6 0 1 0 1.3 0a0.6 0.6 0 1 0 -1.3 0M9.9 41.1a0.6 0.6 0 1 0 1.2 0a0.6 0.6 0 1 0 -1.2 0M78.7 26.4a0.9 0.9 0 1 0 1.9 0a0.9 0.9 0 1 0 -1.9 0M20.4 36.7a0.8 0.8 0 1 0 1.7 0a0.8 0.8 0 1 0 -1.7 0M54.6 17.0a0.6 0.6 0 1 0 1.2 0a0.6 0.6 0 1 0 -1.2 0M96.5 9.6a0.7 0.7 0 1 0 1.3 0a0.7 0.7 0 1 0 -1.3 0M58.2 6.7a1.1 1.1 0 1 0 2.1 0a1.1 1.1 0 1 0 -2.1 0M71.0 50.3a0.8 0.8 0 1 0 1.5 0a0.8 0.8 0 1 0 -1.5 0M51.8 39.6a0.6 0.6 0 1 0 1.3 0a0.6 0.6 0 1 0 -1.3 0M31.6 25.5a1.0 1.0 0 1 0 1.9 0a1.0 1.0 0 1 0 -1.9 0M97.2 13.8a1.1 1.1 0 1 0 2.1 0a1.1 1.1 0 1 0 -2.1 0M68.8 11.6a1.0 1.0 0 1 0 1.9 0a1.0 1.0 0 1 0 -1.9 0M42.7 9.7a1.0 1.0 0 1 0 2.1 0a1.0 1.0 0 1 0 -2.1 0M22.3 17.1a0.5 0.5 0 1 0 1.1 0a0.5 0.5 0 1 0 -1.1 0M50.7 31.5a0.6 0.6 0 1 0 1.3 0a0.6 0.6 0 1 0 -1.3 0M18.9 18.1a0.6 0.6 0 1 0 1.2 0a0.6 0.6 0 1 0 -1.2 0M44.3 27.3a0.7 0.7 0 1 0 1.4 0a0.7 0.7 0 1 0 -1.4 0M59.2 10.6a0.8 0.8 0 1 0 1.6 0a0.8 0.8 0 1 0 -1.6 0M55.9 30.9a0.7 0.7 0 1 0 1.3 0a0.7 0.7 0 1 0 -1.3 0M40.5 21.6a0.9 0.9 0 1 0 1.7 0a0.9 0.9 0 1 0 -1.7 0M37.9 7.6a0.6 0.6 0 1 0 1.2 0a0.6 0.6 0 1 0 -1.2 0M27.3 34.0a0.9 0.9 0 1 0 1.8 0a0.9 0.9 0 1 0 -1.8 0M86.4 32.0a0.6 0.6 0 1 0 1.3 0a0.6 0.6 0 1 0 -1.3 0M16.7 30.3a0.9 0.9 0 1 0 1.8 0a0.9 0.9 0 1 0 -1.8 0M40.5 39.9a0.9 0.9 0 1 0 1.9 0a0.9 0.9 0 1 0 -1.9 0M7.4 24.0a0.9 0.9 0 1 0 1.8 0a0.9 0.9 0 1 0 -1.8 0M82.0 10.9a0.9 0.9 0 1 0 1.8 0a0.9 0.9 0 1 0 -1.8 0M81.5 32.9a0.7 0.7 0 1 0 1.4 0a0.7 0.7 0 1 0 -1.4 0M29.5 18.4a0.6 0.6 0 1 0 1.1 0a0.6 0.6 0 1 0 -1.1 0M67.3 11.5a1.1 1.1 0 1 0 2.1 0a1.1 1.1 0 1 0 -2.1 0M54.1 37.5a0.6 0.6 0 1 0 1.3 0a0.6 0.6 0 1 0 -1.3 0M43.1 27.1a1.1 1.1 0 1 0 2.1 0a1.1 1.1 0 1 0 -2.1 0M58.5 33.7a0.8 0.8 0 1 0 1.5 0a0.8 0.8 0 1 0 -1.5 0M48.6 28.4a0.8 0.8 0 1 0 1.6 0a0.8 0.8 0 1 0 -1.6 0M59.0 47.3a1.0 1.0 0 1 0 1.9 0a1.0 1.0 0 1 0 -1.9 0M37.2 15.6a1.1 1.1 0 1 0 2.1 0a1.1 1.1 0 1 0 -2.1 0M55.2 17.8a0.6 0.6 0 1 0 1.3 0a0.6 0.6 0 1 0 -1.3 0M17.1 35.6a0.8 0.8 0 1 0 1.7 0a0.8 0.8 0 1 0 -1.7 0M12.5 33.6a0.6 0.6 0 1 0 1.1 0a0.6 0.6 0 1 0 -1.1 0M26.5 39.3a0.8 0.8 0 1 0 1.5 0a0.8 0.8 0 1 0 -1.5 0M16.3 37.8a1.1 1.1 0 1 0 2.1 0a1.1 1.1 0 1 0 -2.1 0M63.3 45.9a0.6 0.6 0 1 0 1.1 0a0.6 0.6 0 1 0 -1.1 0M10.0 11.6a1.0 1.0 0 1 0 1.9 0a1.0 1.0 0 1 0 -1.9 0M91.1 13.6a0.8 0.8 0 1 0 1.5 0a0.8 0.8 0 1 0 -1.5 0M87.7 40.8a0.7 0.7 0 1 0 1.5 0a0.7 0.7 0 1 0 -1.5 0M8.4 35.9a0.8 0.8 0 1 0 1.6 0a0.8 0.8 0 1 0 -1.6 0M60.8 34.1a1.0 1.0 0 1 0 2.0 0a1.0 1.0 0 1 0 -2.0 0M79.2 9.5a1.0 1.0 0 1 0 2.1 0a1.0 1.0 0 1 0 -2.1 0M24.4 23.8a0.8 0.8 0 1 0 1.5 0a0.8 0.8 0 1 0 -1.5 0M73.3 20.7a0.8 0.8 0 1 0 1.5 0a0.8 0.8 0 1 0 -1.5 0M64.8 45.0a0.7 0.7 0 1 0 1.5 0a0.7 0.7 0 1 0 -1.5 0M5.3 23.0a0.7 0.7 0 1 0 1.3 0a0.7 0.7 0 1 0 -1.3 0M40.9 21.2a0.7 0.7 0 1 0 1.4 0a0.7 0.7 0 1 0 -1.4 0M36.4 34.2a0.7 0.7 0 1 0 1.4 0a0.7 0.7 0 1 0 -1.4 0M67.7 44.2a0.7 0.7 0 1 0 1.4 0a0.7 0.7 0 1 0 -1.4 0M71.4 20.2a0.8 0.8 0 1 0 1.5 0a0.8 0.8 0 1 0 -1.5 0M82.6 9.7a0.8 0.8 0 1 0 1.7 0a0.8 0.8 0 1 0 -1.7 0M25.4 39.5a0.8 0.8 0 1 0 1.7 0a0.8 0.8 0 1 0 -1.7 0M83.1 33.2a0.7 0.7 0 1 0 1.3 0a0.7 0.7 0 1 0 -1.3 0M83.9 26.2a0.7 0.7 0 1 0 1.4 0a0.7 0.7 0 1 0 -1.4 0M69.6 45.5a0.9 0.9 0 1 0 1.8 0a0.9 0.9 0 1 0 -1.8 0M53.7 42.3a0.7 0.7 0 1 0 1.4 0a0.7 0.7 0 1 0 -1.4 0M92.7 10.4a0.8 0.8 0 1 0 1.5 0a0.8 0.8 0 1 0 -1.5 0M18.9 39.1a1.0 1.0 0 1 0 2.0 0a1.0 1.0 0 1 0 -2.0 0M58.1 43.8a0.7 0.7 0 1 0 1.4 0a0.7 0.7 0 1 0 -1.4 0M42.9 24.9a1.1 1.1 0 1 0 2.1 0a1.1 1.1 0 1 0 -2.1 0M86.7 34.9a0.5 0.5 0 1 0 1.0 0a0.5 0.5 0 1 0 -1.0 0M68.5 22.2a0.5 0.5 0 1 0 1.0 0a0.5 0.5 0 1 0 -1.0 0M23.2 11.5a0.7 0.7 0 1 0 1.3 0a0.7 0.7 0 1 0 -1.3 0M95.8 40.2a0.9 0.9 0 1 0 1.7 0a0.9 0.9 0 1 0 -1.7 0M58.6 32.6a0.8 0.8 0 1 0 1.6 0a0.8 0.8 0 1 0 -1.6 0M88.5 11.1a1.0 1.0 0 1 0 2.0 0a1.0 1.0 0 1 0 -2.0 0M89.9 14.6a0.5 0.5 0 1 0 1.1 0a0.5 0.5 0 1 0 -1.1 0M59.6 11.8a0.7 0.7 0 1 0 1.5 0a0.7 0.7 0 1 0 -1.5 0M68.1 50.6a1.0 1.0 0 1 0 1.9 0a1.0 1.0 0 1 0 -1.9 0M65.8 47.5a0.9 0.9 0 1 0 1.7 0a0.9 0.9 0 1 0 -1.7 0M52.1 32.9a1.0 1.0 0 1 0 1.9 0a1.0 1.0 0 1 0 -1.9 0M96.8 28.6a0.8 0.8 0 1 0 1.6 0a0.8 0.8 0 1 0 -1.6 0M58.5 24.0a0.6 0.6 0 1 0 1.1 0a0.6 0.6 0 1 0 -1.1 0M85.4 14.7a0.6 0.6 0 1 0 1.1 0a0.6 0.6 0 1 0 -1.1 0M49.9 41.9a0.9 0.9 0 1 0 1.7 0a0.9 0.9 0 1 0 -1.7 0M70.4 47.8a0.5 0.5 0 1 0 1.0 0a0.5 0.5 0 1 0 -1.0 0M30.3 18.2a0.7 0.7 0 1 0 1.5 0a0.7 0.7 0 1 0 -1.5 0M34.4 37.9a0.6 0.6 0 1 0 1.1 0a0.6 0.6 0 1 0 -1.1 0M62.0 39.3a0.5 0.5 0 1 0 1.0 0a0.5 0.5 0 1 0 -1.0 0M12.2 27.2a1.0 1.0 0 1 0 1.9 0a1.0 1.0 0 1 0 -1.9 0M17.8 31.2a0.5 0.5 0 1 0 1.0 0a0.5 0.5 0 1 0 -1.0 0M19.3 31.7a0.8 0.8 0 1 0 1.5 0a0.8 0.8 0 1 0 -1.5 0M11.7 10.4a0.9 0.9 0 1 0 1.8 0a0.9 0.9 0 1 0 -1.8 0M40.2 35.8a0.7 0.7 0 1 0 1.3 0a0.7 0.7 0 1 0 -1.3 0M36.4 13.6a0.9 0.9 0 1 0 1.9 0a0.9 0.9 0 1 0 -1.9 0M32.9 10.5a1.1 1.1 0 1 0 2.2 0a1.1 1.1 0 1 0 -2.2 0M97.7 25.5a0.9 0.9 0 1 0 1.9 0a0.9 0.9 0 1 0 -1.9 0M66.7 55.3a0.9 0.9 0 1 0 1.8 0a0.9 0.9 0 1 0 -1.8 0M9.3 27.5a0.5 0.5 0 1 0 1.0 0a0.5 0.5 0 1 0 -1.0 0M14.2 28.8a1.0 1.0 0 1 0 1.9 0a1.0 1.0 0 1 0 -1.9 0M37.9 33.1a0.5 0.5 0 1 0 1.0 0a0.5 0.5 0 1 0 -1.0 0M66.8 27.6a1.1 1.1 0 1 0 2.1 0a1.1 1.1 0 1 0 -2.1 0M88.7 44.3a0.7 0.7 0 1 0 1.3 0a0.7 0.7 0 1 0 -1.3 0M54.8 35.6a0.7 0.7 0 1 0 1.4 0a0.7 0.7 0 1 0 -1.4 0M65.5 18.0a1.0 1.0 0 1 0 1.9 0a1.0 1.0 0 1 0 -1.9 0M63.6 47.8a0.8 0.8 0 1 0 1.5 0a0.8 0.8 0 1 0 -1.5 0M65.9 20.5a0.5 0.5 0 1 0 1.0 0a0.5 0.5 0 1 0 -1.0 0M30.6 25.9a0.6 0.6 0 1 0 1.2 0a0.6 0.6 0 1 0 -1.2 0M49.1 27.5a0.5 0.5 0 1 0 1.1 0a0.5 0.5 0 1 0 -1.1 0M4.7 28.7a0.9 0.9 0 1 0 1.7 0a0.9 0.9 0 1 0 -1.7 0M12.9 14.9a0.7 0.7 0 1 0 1.4 0a0.7 0.7 0 1 0 -1.4 0M49.4 9.1a1.0 1.0 0 1 0 2.1 0a1.0 1.0 0 1 0 -2.1 0M70.0 49.0a0.9 0.9 0 1 0 1.7 0a0.9 0.9 0 1 0 -1.7 0M48.0 32.8a0.6 0.6 0 1 0 1.2 0a0.6 0.6 0 1 0 -1.2 0M88.9 8.7a0.8 0.8 0 1 0 1.7 0a0.8 0.8 0 1 0 -1.7 0M46.8 33.5a0.9 0.9 0 1 0 1.8 0a0.9 0.9 0 1 0 -1.8 0M83.1 14.2a0.9 0.9 0 1 0 1.8 0a0.9 0.9 0 1 0 -1.8 0M25.2 14.7a1.1 1.1 0 1 0 2.1 0a1.1 1.1 0 1 0 -2.1 0M87.1 16.0a0.6 0.6 0 1 0 1.3 0a0.6 0.6 0 1 0 -1.3 0M98.3 36.2a0.8 0.8 0 1 0 1.6 0a0.8 0.8 0 1 0 -1.6 0M63.0 14.8a0.8 0.8 0 1 0 1.7 0a0.8 0.8 0 1 0 -1.7 0M97.8 20.8a0.7 0.7 0 1 0 1.3 0a0.7 0.7 0 1 0 -1.3 0M65.0 41.2a0.9 0.9 0 1 0 1.9 0a0.9 0.9 0 1 0 -1.9 0M63.0 30.9a1.0 1.0 0 1 0 2.0 0a1.0 1.0 0 1 0 -2.0 0M87.0 11.4a0.6 0.6 0 1 0 1.2 0a0.6 0.6 0 1 0 -1.2 0M27.4 15.8a0.7 0.7 0 1 0 1.4 0a0.7 0.7 0 1 0 -1.4 0M65.3 16.8a0.7 0.7 0 1 0 1.5 0a0.7 0.7 0 1 0 -1.5 0M65.0 53.3a0.9 0.9 0 1 0 1.8 0a0.9 0.9 0 1 0 -1.8 0M57.3 10.1a0.9 0.9 0 1 0 1.7 0a0.9 0.9 0 1 0 -1.7 0M32.5 9.0a0.6 0.6 0 1 0 1.2 0a0.6 0.6 0 1 0 -1.2 0M93.9 41.2a1.1 1.1 0 1 0 2.1 0a1.1 1.1 0 1 0 -2.1 0M68.1 17.4a0.8 0.8 0 1 0 1.7 0a0.8 0.8 0 1 0 -1.7 0M69.8 33.1a1.1 1.1 0 1 0 2.1 0a1.1 1.1 0 1 0 -2.1 0M27.1 25.1a1.0 1.0 0 1 0 2.1 0a1.0 1.0 0 1 0 -2.1 0M39.0 26.9a0.9 0.9 0 1 0 1.9 0a0.9 0.9 0 1 0 -1.9 0M62.7 51.7a0.9 0.9 0 1 0 1.8 0a0.9 0.9 0 1 0 -1.8 0M56.2 41.0a0.9 0.9 0 1 0 1.8 0a0.9 0.9 0 1 0 -1.8 0M12.9 41.9a1.1 1.1 0 1 0 2.1 0a1.1 1.1 0 1 0 -2.1 0M21.7 22.1a0.7 0.7 0 1 0 1.4 0a0.7 0.7 0 1 0 -1.4 0M81.0 36.1a0.6 0.6 0 1 0 1.2 0a0.6 0.6 0 1 0 -1.2 0M84.8 32.9a1.0 1.0 0 1 0 1.9 0a1.0 1.0 0 1 0 -1.9 0M82.9 35.9a0.5 0.5 0 1 0 1.1 0a0.5 0.5 0 1 0 -1.1 0M33.1 10.3a0.6 0.6 0 1 0 1.1 0a0.6 0.6 0 1 0 -1.1 0M25.5 7.5a0.7 0.7 0 1 0 1.3 0a0.7 0.7 0 1 0 -1.3 0M42.8 27.9a0.9 0.9 0 1 0 1.8 0a0.9 0.9 0 1 0 -1.8 0M10.7 28.5a1.1 1.1 0 1 0 2.2 0a1.1 1.1 0 1 0 -2.2 0M28.0 9.0a0.8 0.8 0 1 0 1.6 0a0.8 0.8 0 1 0 -1.6 0M60.7 32.0a0.6 0.6 0 1 0 1.2 0a0.6 0.6 0 1 0 -1.2 0M90.2 39.0a0.9 0.9 0 1 0 1.7 0a0.9 0.9 0 1 0 -1.7 0M34.1 10.1a1.0 1.0 0 1 0 2.0 0a1.0 1.0 0 1 0 -2.0 0M68.9 16.2a0.9 0.9 0 1 0 1.8 0a0.9 0.9 0 1 0 -1.8 0M32.5 13.6a1.0 1.0 0 1 0 2.1 0a1.0 1.0 0 1 0 -2.1 0M61.3 40.8a0.6 0.6 0 1 0 1.2 0a0.6 0.6 0 1 0 -1.2 0M21.1 26.2a1.0 1.0 0 1 0 1.9 0a1.0 1.0 0 1 0 -1.9 0M70.7 13.7a0.8 0.8 0 1 0 1.7 0a0.8 0.8 0 1 0 -1.7 0" fill="#f6f6f6"/><rect x="7" y="91.6" width="92" height="1.6" fill="#555"/><text x="6.5" y="114.4" font-family="Liberation Serif" font-size="21" fill="#ee7f26" stroke="#ee7f26" stroke-width="0.55" textLength="94.5" lengthAdjust="spacingAndGlyphs">ELSEVIER</text></svg>

<!-- journal title -->
<div class="jt">
<span class="jw" style="left:205.0px;top:33.4px;transform:scaleX(0.981)">Journal</span>
<span class="jw" style="left:302.0px;top:33.4px;transform:scaleX(1.032)">of</span>
<span class="jw" style="left:333.0px;top:33.4px;transform:scaleX(1.028)">the</span>
<span class="jw" style="left:382.0px;top:33.4px;transform:scaleX(0.966)">American</span>
<span class="jw" style="left:504.0px;top:33.4px;transform:scaleX(0.923)">Academy</span>
<span class="jw" style="left:621.0px;top:33.4px;transform:scaleX(0.987)">of</span>
<span class="jw" style="left:654.0px;top:33.4px;transform:scaleX(1.010)">Child</span>
<span class="jw" style="left:726.7px;top:33.4px;transform:scaleX(1.139)">&amp;</span>
<span class="jw" style="left:344.8px;top:72.4px;transform:scaleX(0.967)">Adolescent</span>
<span class="jw" style="left:486.4px;top:72.4px;transform:scaleX(0.945)">Psychiatry</span>
</div>
<div class="abs vol" id="v1" style="left:312px;top:112.8px;letter-spacing:-0.186px"><span class="blue">Volume 59, Issue 6</span>, June 2020, Pages 727-738</div>

<!-- cover -->
<svg class="abs" id="cover" style="left:790px;top:18px" width="95" height="120" viewBox="0 0 95 120"><defs><filter id="bl" x="-20%" y="-20%" width="140%" height="140%"><feGaussianBlur stdDeviation="0.8"/></filter></defs><rect x="5.5" y="6.5" width="84" height="109" fill="#8c8c8c" filter="url(#bl)" opacity="0.8"/><rect x="4" y="5" width="83.5" height="109" fill="#e5652a"/><rect x="4" y="5" width="83.5" height="1" fill="#7a5040"/><rect x="4" y="5" width="0.8" height="109" fill="#a9603c" opacity="0.7"/><rect x="87" y="5" width="1" height="109" fill="#f3e4d4"/><rect x="9.0" y="11.0" width="21.0" height="0.8" fill="#f2a57a" opacity="0.5"/><rect x="72.0" y="11.0" width="10.0" height="0.8" fill="#f2a57a" opacity="0.5"/><rect x="9.0" y="17.4" width="56.0" height="1" fill="#f3b08a" opacity="0.45"/><text x="9" y="26.6" font-family="Liberation Sans" font-size="7.2" fill="#fbe3d4" opacity="0.9" textLength="63.4" lengthAdjust="spacingAndGlyphs">CHILD &amp; ADOLESCENT</text><text x="9" y="33.2" font-family="Liberation Sans" font-size="7.0" fill="#fbe3d4" opacity="0.9" textLength="33.2" lengthAdjust="spacingAndGlyphs">PSYCHIATRY</text><rect x="49.0" y="39.8" width="28.0" height="1.1" fill="#c0582c" opacity="0.55"/><rect x="49.0" y="42.4" width="27.0" height="1.1" fill="#c0582c" opacity="0.55"/><rect x="49.0" y="47.0" width="10.0" height="0.8" fill="#f0a67c" opacity="0.5"/><rect x="49.0" y="49.6" width="19.0" height="0.8" fill="#f0a67c" opacity="0.5"/><rect x="49.0" y="52.3" width="28.0" height="0.8" fill="#f0a67c" opacity="0.5"/><rect x="49.0" y="55.0" width="27.0" height="0.8" fill="#f0a67c" opacity="0.5"/><rect x="49.0" y="57.6" width="25.0" height="0.8" fill="#f0a67c" opacity="0.5"/><rect x="49.0" y="60.3" width="28.0" height="0.8" fill="#f0a67c" opacity="0.5"/><rect x="49.0" y="63.0" width="11.0" height="0.8" fill="#f0a67c" opacity="0.5"/><rect x="9.0" y="108.2" width="72.3" height="1.8" fill="#fbdcc8" opacity="0.9"/><rect x="9" y="39" width="37" height="55" fill="#f8f2f6"/><path d="M27.5 45.0 C21.0 45.0 18.5 50.0 18.8 56.0 C19.0 60.0 17.8 63.0 19.5 65.5 C22.0 66.5 24.0 65.0 25.0 64.0 L31.0 64.0 C33.0 65.5 36.0 66.0 36.8 64.0 C37.2 60.0 36.5 56.0 36.5 52.0 C36.0 47.0 32.0 45.0 27.5 45.0 Z" fill="#7e2c20"/><ellipse cx="26.799999999999955" cy="55.599999999999994" rx="3.4" ry="4.4" fill="#b6b46e"/><path d="M21.5 67.0 C18.0 66.0 15.0 64.0 13.5 60.0" stroke="#e6d86a" stroke-width="2.2" fill="none"/><circle cx="13" cy="59.5" r="1.8" fill="#e3d890"/><path d="M35.0 67.0 C37.0 66.0 38.0 64.0 39.0 62.0" stroke="#e6d86a" stroke-width="1.6" fill="none"/><path d="M21.5 65.0 L35.5 65.0 C34.5 69.0 32.0 72.0 31.5 75.0 C32.5 78.0 34.0 81.0 34.5 83.5 L22.5 83.5 C23.0 81.0 24.5 78.0 25.5 75.0 C25.0 72.0 22.5 69.0 21.5 65.0 Z" fill="#f0dc38"/><path d="M28.5 74.0 l1 2.2 2.4 0.2 -1.9 1.5 0.7 2.3 -2.2 -1.3 -2.2 1.3 0.7 -2.3 -1.9 -1.5 2.4 -0.2Z" fill="#c8542c"/><path d="M16.5 86.0 C18.0 82.5 39.0 82.5 37.5 86.0 C36.0 89.5 18.0 89.5 16.5 86.0 Z" fill="#fbf7f8" stroke="#c8b4c8" stroke-width="0.6"/><rect x="23.200000000000045" y="89" width="2.2" height="4.8" fill="#e9dc6a"/><rect x="29.600000000000023" y="89" width="2.2" height="4.8" fill="#e9dc6a"/><path d="M19.2 47.2 C16.0 45.0 15.5 42.2 17.5 42.2 C18.5 42.2 19.0 43.0 19.2 43.5 C19.5 43.0 20.0 42.2 21.0 42.2 C23.0 42.2 22.5 45.0 19.2 47.2 Z" fill="#d56b58"/><path d="M33.6 45.6 C31.0 43.8 30.6 40.8 32.2 40.8 C33.0 40.8 33.4 41.4 33.6 41.8 C33.8 41.4 34.2 40.8 35.0 40.8 C36.6 40.8 36.2 43.8 33.6 45.6 Z" fill="#3f9868"/><path d="M11.5 54.5 L16.5 48.8" stroke="#c07a66" stroke-width="2.4"/><rect x="37" y="48.5" width="3.4" height="6" rx="1" fill="#d49aa4"/><path d="M36.8 62.5 L42.6 59.2" stroke="#6f95d2" stroke-width="2"/><path d="M12.0 67.0 L12.0 90.0 M43.0 67.0 L43.0 90.0" stroke="#d8c8e0" stroke-width="0.8"/></svg>

<div class="nr"><span class="nw" style="left:59.1px;top:184.2px;transform:scaleX(0.97)">New</span><span class="nw" style="left:93.8px;top:184.2px;transform:scaleX(1.088)">research</span></div>

<div class="tt">
<span class="tw" style="left:58.4px;top:208.8px;transform:scaleX(1.005)">Effects</span>
<span class="tw" style="left:176.5px;top:208.8px;transform:scaleX(0.968)">of</span>
<span class="tw" style="left:220.0px;top:208.8px;transform:scaleX(1.080)">the</span>
<span class="tw" style="left:280.6px;top:208.8px;transform:scaleX(1.084)">Mother-Child</span>
<span class="tw" style="left:517.8px;top:208.8px;transform:scaleX(1.051)">Education</span>
<span class="tw" style="left:691.1px;top:208.8px;transform:scaleX(1.095)">Program</span>
<span class="tw" style="left:58.3px;top:257.7px;transform:scaleX(1.105)">on</span>
<span class="tw" style="left:111.7px;top:257.7px;transform:scaleX(1.081)">Parenting</span>
<span class="tw" style="left:279.7px;top:257.7px;transform:scaleX(0.994)">Stress</span>
<span class="tw" style="left:380.5px;top:257.7px;transform:scaleX(1.160)">and</span>
<span class="tw" style="left:455.6px;top:257.7px;transform:scaleX(1.051)">Disciplinary</span>
<span class="tw" style="left:664.6px;top:257.7px;transform:scaleX(1.041)">Practices</span>
<span class="tw" style="left:59.4px;top:306.7px;transform:scaleX(1.021)">Among</span>
<span class="tw" style="left:187.3px;top:306.7px;transform:scaleX(0.987)">Refugee</span>
<span class="tw" style="left:322.8px;top:306.7px;transform:scaleX(1.088)">and</span>
<span class="tw" style="left:393.9px;top:306.7px;transform:scaleX(1.116)">Other</span>
<span class="tw" style="left:502.2px;top:306.7px;transform:scaleX(1.051)">Marginalized</span>
<span class="tw" style="left:58.3px;top:356.7px;transform:scaleX(1.099)">Communities</span>
<span class="tw" style="left:295.0px;top:356.7px;transform:scaleX(1.079)">in</span>
<span class="tw" style="left:338.4px;top:356.7px;transform:scaleX(1.018)">Lebanon:</span>
<span class="tw" style="left:494.4px;top:356.7px;transform:scaleX(0.825)">A</span>
<span class="tw" style="left:528.9px;top:356.7px;transform:scaleX(1.072)">Pilot</span>
<span class="tw" style="left:617.9px;top:356.7px;transform:scaleX(1.045)">Randomized</span>
<span class="tw" style="left:58.3px;top:406.4px;transform:scaleX(1.051)">Controlled</span>
<span class="tw" style="left:241.7px;top:406.4px;transform:scaleX(1.078)">Trial</span>
</div>

<!--AUTH-->
<div class="au">
<span class="w" style="left:58.8px;top:476.5px;letter-spacing:-0.031px">Liliana A. Ponguta PhD, MPH <span class="sp">a</span></span>
<span class="w" style="left:321.0px;top:476.5px;letter-spacing:-0.316px">Ghassan Issa MD <span class="sp">b</span>, </span>
<span class="w" style="left:461.9px;top:476.5px;letter-spacing:-0.219px">Lara Aoudeh MS <span class="sp">b</span>, </span>
<span class="w" style="left:596.9px;top:476.5px;letter-spacing:-0.091px">Cosette Maalouf MS <span class="sp">b</span>, </span>
<span class="w" style="left:759.6px;top:476.5px;letter-spacing:-0.298px">Sascha D. Hein</span>
<span class="w" style="left:58.8px;top:503.7px;letter-spacing:-0.368px">PhD <span class="sp">e</span>, </span>
<span class="w" style="left:107.1px;top:503.7px;letter-spacing:-0.023px">Anna L. Zonderman LCSW, MPH <span class="sp">d</span>, </span>
<span class="w" style="left:361.8px;top:503.7px;letter-spacing:-0.085px">Liliya Katsovich MA, MBA <span class="sp">c</span>, </span>
<span class="w" style="left:559.9px;top:503.7px;letter-spacing:-0.371px">Kaveh Khoshnood PhD <span class="sp">c</span>, </span>
<span class="w" style="left:736.8px;top:503.7px;letter-spacing:-0.057px">Johanna Bick PhD <span class="sp">f</span>,</span>
<span class="w" style="left:59.2px;top:530.5px;letter-spacing:-0.030px">Abir Awar MA <span class="sp">b</span>, </span>
<span class="w" style="left:174.2px;top:530.5px;letter-spacing:-0.274px">Sawsan Nourallah BS <span class="sp">b</span>, </span>
<span class="w" style="left:343.3px;top:530.5px;letter-spacing:-0.275px">Sarah Householder BS <span class="sp">a</span>, </span>
<span class="w" style="left:520.1px;top:530.5px;letter-spacing:-0.048px">Christina C. Moore BS <span class="sp">g</span>, </span>
<span class="w" style="left:697.8px;top:530.5px;letter-spacing:-0.379px">Rima Salah PhD <span class="sp">a</span>, </span>
<span class="w" style="left:829.0px;top:530.5px;letter-spacing:-0.756px">Pia R.</span>
<span class="w" style="left:59.6px;top:557.1px;letter-spacing:-0.061px">Britto PhD <span class="sp">h</span>, </span>
<span class="w" style="left:151.4px;top:557.1px;letter-spacing:-0.187px">James F. Leckman MD, PhD <span class="sp">a</span></span>
<svg width="14" height="14" viewBox="0 0 14 14" style="position:absolute;left:280.5px;top:476.5px"><ellipse cx="6.6" cy="3.6" rx="3.1" ry="3.2" fill="none" stroke="#2a7ab0" stroke-width="1.3"/><path d="M0.9 12.4 C1.3 8.7 3.6 8.3 6.6 8.3 C9.6 8.3 11.9 8.7 12.3 12.4" fill="none" stroke="#2a7ab0" stroke-width="1.3"/></svg>
<svg width="13" height="11" viewBox="0 0 13 11" style="position:absolute;left:299.2px;top:477.0px"><rect x="0.8" y="1" width="11.4" height="8.4" fill="none" stroke="#2a7ab0" stroke-width="1.7"/><path d="M1 1.2 L6.5 5.8 L12 1.2 M1 9.2 L5 5 M12 9.2 L8 5" fill="none" stroke="#2a7ab0" stroke-width="1.1"/></svg>
<span class="w" style="left:312.6px;top:476.5px">,</span>
</div>
<!--/AUTH-->
</body></html>
